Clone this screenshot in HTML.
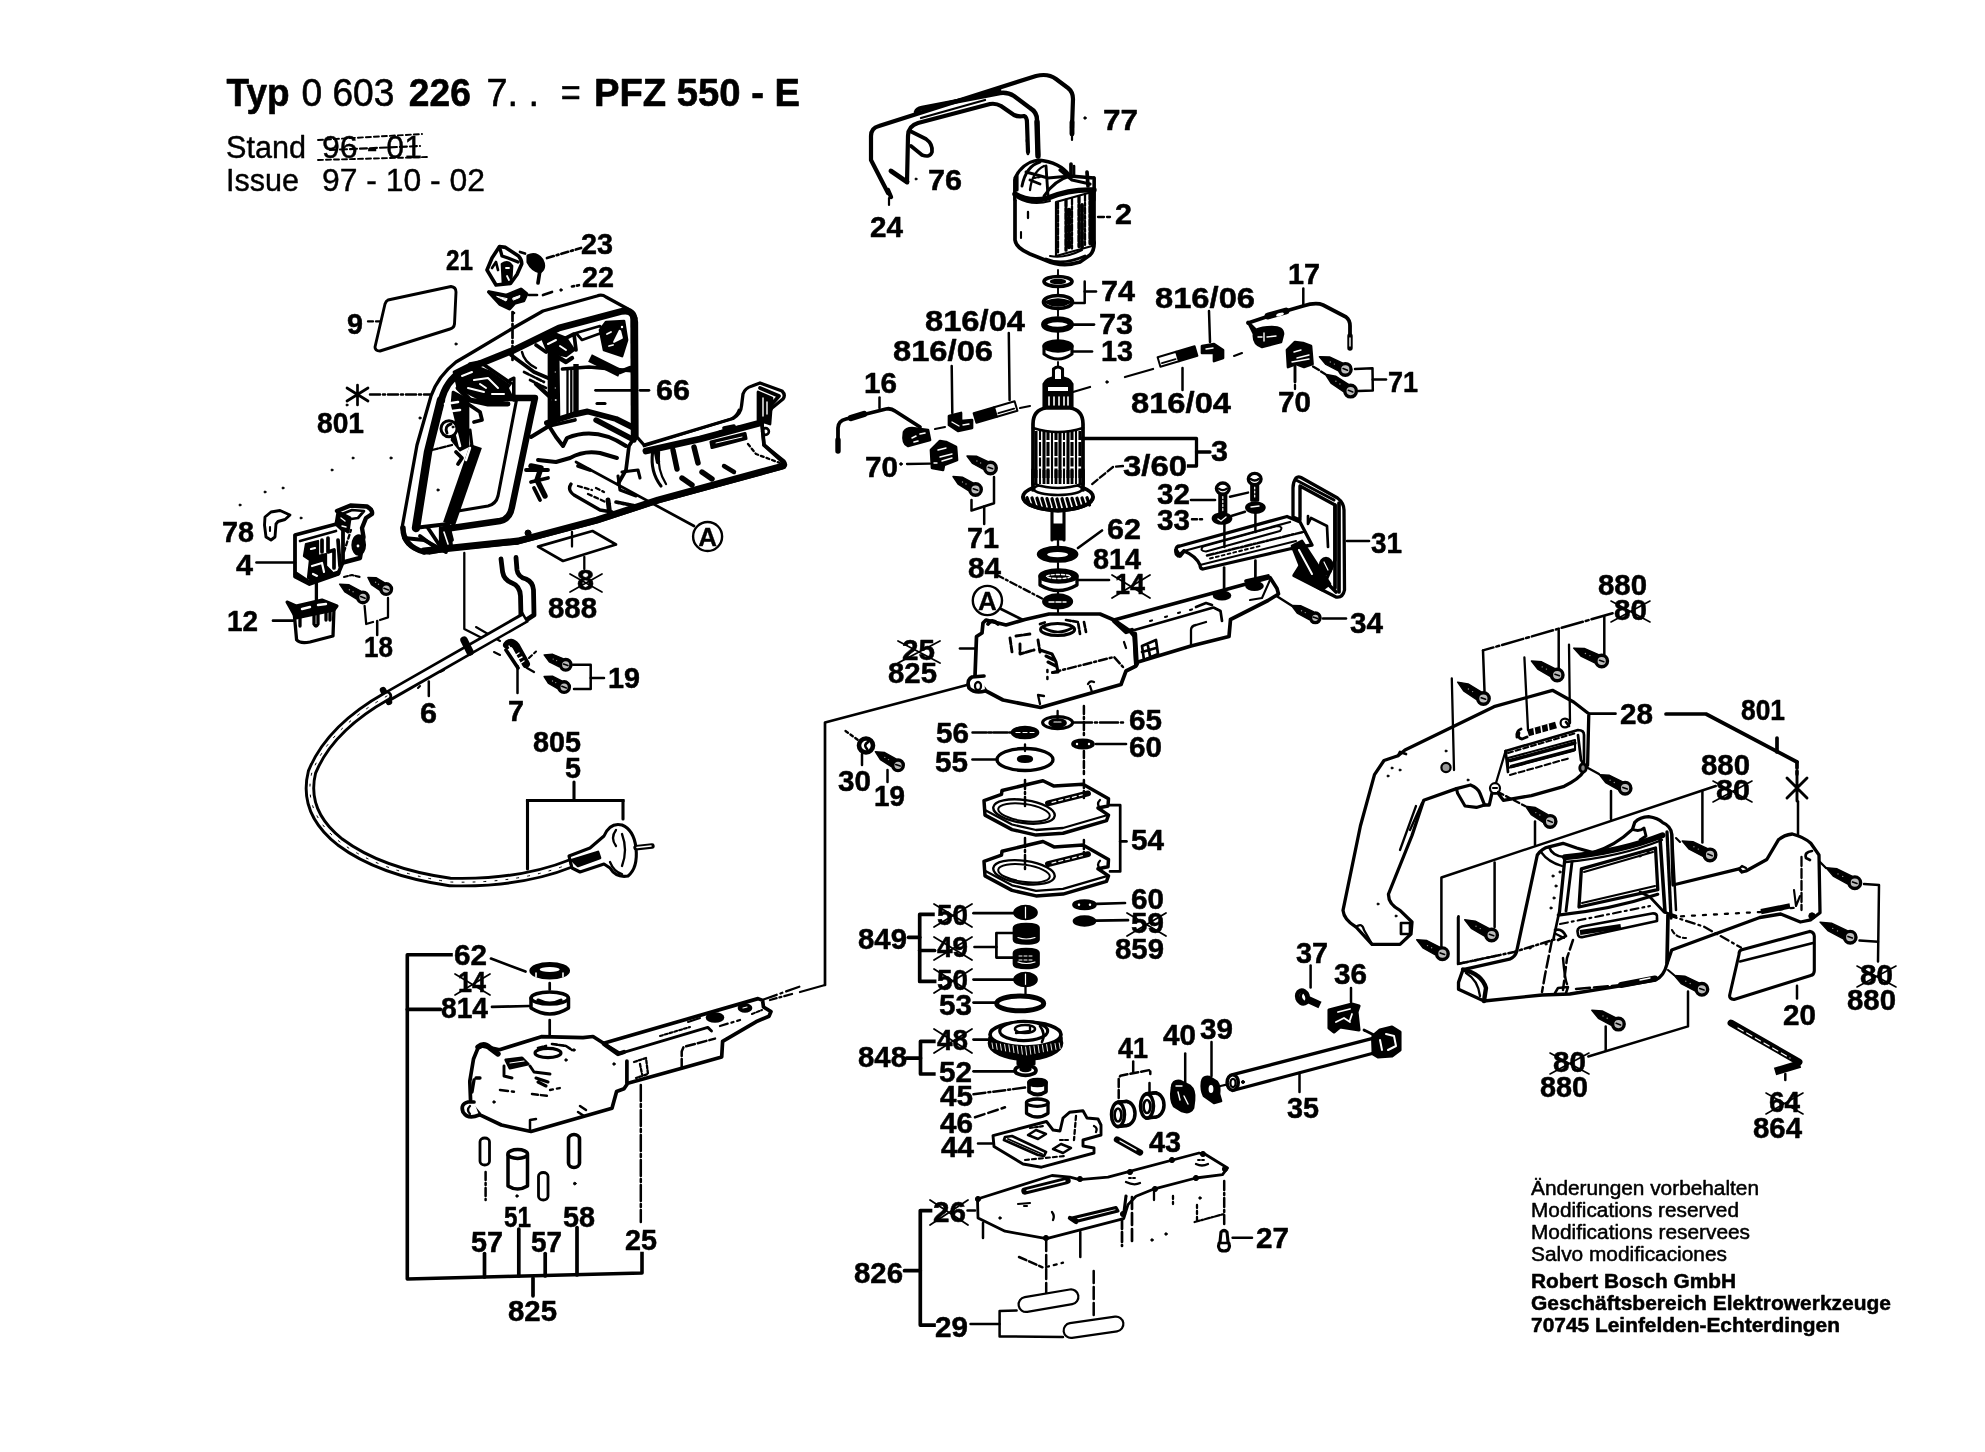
<!DOCTYPE html>
<html><head><meta charset="utf-8"><title>PFZ 550 - E</title>
<style>
html,body{margin:0;padding:0;background:#fff;}
body{width:1985px;height:1452px;overflow:hidden;font-family:"Liberation Sans",sans-serif;}
svg{display:block;font-family:"Liberation Sans",sans-serif;filter:blur(0.7px);}
svg *{stroke-linejoin:round;}
</style></head><body>
<svg width="1985" height="1452" viewBox="0 0 1985 1452" fill="none" stroke="#000" stroke-linecap="round">
<rect x="0" y="0" width="1985" height="1452" fill="#fff" stroke="none"/>
<text x="226.6" y="106" font-size="38" font-weight="bold" fill="#000" textLength="63" lengthAdjust="spacingAndGlyphs" stroke="#000" stroke-width="0.6">Typ</text>
<text x="301.4" y="106" font-size="38" font-weight="normal" fill="#000" textLength="93" lengthAdjust="spacingAndGlyphs" stroke="#000" stroke-width="0.6">0 603</text>
<text x="408.8" y="106" font-size="38" font-weight="bold" fill="#000" textLength="62" lengthAdjust="spacingAndGlyphs" stroke="#000" stroke-width="0.6">226</text>
<text x="486.6" y="106" font-size="38" font-weight="normal" fill="#000" textLength="52.5" lengthAdjust="spacingAndGlyphs" stroke="#000" stroke-width="0.6">7. .</text>
<text x="560.7" y="106" font-size="38" font-weight="normal" fill="#000" textLength="20" lengthAdjust="spacingAndGlyphs" stroke="#000" stroke-width="0.6">=</text>
<text x="594" y="106" font-size="38" font-weight="bold" fill="#000" textLength="206" lengthAdjust="spacingAndGlyphs" stroke="#000" stroke-width="0.6">PFZ 550 - E</text>
<text x="226" y="158" font-size="31" font-weight="normal" fill="#000" textLength="80" lengthAdjust="spacingAndGlyphs" stroke="#000" stroke-width="0.4">Stand</text>
<text x="322" y="158" font-size="31" font-weight="normal" fill="#000" textLength="100" lengthAdjust="spacingAndGlyphs" stroke="#000" stroke-width="0.4">96 - 01</text>
<text x="226" y="191" font-size="31" font-weight="normal" fill="#000" textLength="73" lengthAdjust="spacingAndGlyphs" stroke="#000" stroke-width="0.4">Issue</text>
<text x="322" y="191" font-size="31" font-weight="normal" fill="#000" textLength="163" lengthAdjust="spacingAndGlyphs" stroke="#000" stroke-width="0.4">97 - 10 - 02</text>
<polyline points="318,140 422,134" stroke-width="1.9" stroke-dasharray="5 3" stroke-linecap="round"/>
<polyline points="318,160 428,157" stroke-width="1.9" stroke-dasharray="5 3" stroke-linecap="round"/>
<polyline points="330,150 420,146" stroke-width="2.1" stroke-dasharray="7 3" stroke-linecap="round"/>
<text x="1103" y="130" font-size="29" font-weight="bold" fill="#000" textLength="35" lengthAdjust="spacingAndGlyphs" stroke="#000" stroke-width="0.5">77</text>
<text x="928" y="190" font-size="29" font-weight="bold" fill="#000" textLength="34" lengthAdjust="spacingAndGlyphs" stroke="#000" stroke-width="0.5">76</text>
<text x="870" y="237" font-size="29" font-weight="bold" fill="#000" textLength="33" lengthAdjust="spacingAndGlyphs" stroke="#000" stroke-width="0.5">24</text>
<text x="1115" y="224" font-size="29" font-weight="bold" fill="#000" textLength="17" lengthAdjust="spacingAndGlyphs" stroke="#000" stroke-width="0.5">2</text>
<text x="1101" y="301" font-size="29" font-weight="bold" fill="#000" textLength="34" lengthAdjust="spacingAndGlyphs" stroke="#000" stroke-width="0.5">74</text>
<text x="1099" y="334" font-size="29" font-weight="bold" fill="#000" textLength="34" lengthAdjust="spacingAndGlyphs" stroke="#000" stroke-width="0.5">73</text>
<text x="1101" y="361" font-size="29" font-weight="bold" fill="#000" textLength="32" lengthAdjust="spacingAndGlyphs" stroke="#000" stroke-width="0.5">13</text>
<text x="925" y="331" font-size="29" font-weight="bold" fill="#000" textLength="100" lengthAdjust="spacingAndGlyphs" stroke="#000" stroke-width="0.5">816/04</text>
<text x="893" y="361" font-size="29" font-weight="bold" fill="#000" textLength="100" lengthAdjust="spacingAndGlyphs" stroke="#000" stroke-width="0.5">816/06</text>
<text x="1155" y="308" font-size="29" font-weight="bold" fill="#000" textLength="100" lengthAdjust="spacingAndGlyphs" stroke="#000" stroke-width="0.5">816/06</text>
<text x="1288" y="284" font-size="29" font-weight="bold" fill="#000" textLength="32" lengthAdjust="spacingAndGlyphs" stroke="#000" stroke-width="0.5">17</text>
<text x="1131" y="413" font-size="29" font-weight="bold" fill="#000" textLength="100" lengthAdjust="spacingAndGlyphs" stroke="#000" stroke-width="0.5">816/04</text>
<text x="1278" y="412" font-size="29" font-weight="bold" fill="#000" textLength="33" lengthAdjust="spacingAndGlyphs" stroke="#000" stroke-width="0.5">70</text>
<text x="1388" y="392" font-size="29" font-weight="bold" fill="#000" textLength="30" lengthAdjust="spacingAndGlyphs" stroke="#000" stroke-width="0.5">71</text>
<text x="864" y="393" font-size="29" font-weight="bold" fill="#000" textLength="33" lengthAdjust="spacingAndGlyphs" stroke="#000" stroke-width="0.5">16</text>
<text x="865" y="477" font-size="29" font-weight="bold" fill="#000" textLength="33" lengthAdjust="spacingAndGlyphs" stroke="#000" stroke-width="0.5">70</text>
<text x="967" y="548" font-size="29" font-weight="bold" fill="#000" textLength="32" lengthAdjust="spacingAndGlyphs" stroke="#000" stroke-width="0.5">71</text>
<text x="1211" y="461" font-size="29" font-weight="bold" fill="#000" textLength="17" lengthAdjust="spacingAndGlyphs" stroke="#000" stroke-width="0.5">3</text>
<text x="1123" y="476" font-size="29" font-weight="bold" fill="#000" textLength="64" lengthAdjust="spacingAndGlyphs" stroke="#000" stroke-width="0.5">3/60</text>
<text x="1157" y="504" font-size="29" font-weight="bold" fill="#000" textLength="33" lengthAdjust="spacingAndGlyphs" stroke="#000" stroke-width="0.5">32</text>
<text x="1157" y="530" font-size="29" font-weight="bold" fill="#000" textLength="33" lengthAdjust="spacingAndGlyphs" stroke="#000" stroke-width="0.5">33</text>
<text x="1371" y="553" font-size="29" font-weight="bold" fill="#000" textLength="31" lengthAdjust="spacingAndGlyphs" stroke="#000" stroke-width="0.5">31</text>
<text x="1107" y="539" font-size="29" font-weight="bold" fill="#000" textLength="34" lengthAdjust="spacingAndGlyphs" stroke="#000" stroke-width="0.5">62</text>
<text x="1093" y="569" font-size="29" font-weight="bold" fill="#000" textLength="48" lengthAdjust="spacingAndGlyphs" stroke="#000" stroke-width="0.5">814</text>
<text x="1115" y="594" font-size="29" font-weight="bold" fill="#000" textLength="30" lengthAdjust="spacingAndGlyphs" stroke="#000" stroke-width="0.5">14</text>
<text x="968" y="578" font-size="29" font-weight="bold" fill="#000" textLength="33" lengthAdjust="spacingAndGlyphs" stroke="#000" stroke-width="0.5">84</text>
<text x="1350" y="633" font-size="29" font-weight="bold" fill="#000" textLength="33" lengthAdjust="spacingAndGlyphs" stroke="#000" stroke-width="0.5">34</text>
<text x="902" y="660" font-size="29" font-weight="bold" fill="#000" textLength="33" lengthAdjust="spacingAndGlyphs" stroke="#000" stroke-width="0.5">25</text>
<text x="888" y="683" font-size="29" font-weight="bold" fill="#000" textLength="49" lengthAdjust="spacingAndGlyphs" stroke="#000" stroke-width="0.5">825</text>
<text x="1129" y="730" font-size="29" font-weight="bold" fill="#000" textLength="33" lengthAdjust="spacingAndGlyphs" stroke="#000" stroke-width="0.5">65</text>
<text x="1129" y="757" font-size="29" font-weight="bold" fill="#000" textLength="33" lengthAdjust="spacingAndGlyphs" stroke="#000" stroke-width="0.5">60</text>
<text x="936" y="743" font-size="29" font-weight="bold" fill="#000" textLength="33" lengthAdjust="spacingAndGlyphs" stroke="#000" stroke-width="0.5">56</text>
<text x="935" y="772" font-size="29" font-weight="bold" fill="#000" textLength="33" lengthAdjust="spacingAndGlyphs" stroke="#000" stroke-width="0.5">55</text>
<text x="838" y="791" font-size="29" font-weight="bold" fill="#000" textLength="33" lengthAdjust="spacingAndGlyphs" stroke="#000" stroke-width="0.5">30</text>
<text x="874" y="806" font-size="29" font-weight="bold" fill="#000" textLength="31" lengthAdjust="spacingAndGlyphs" stroke="#000" stroke-width="0.5">19</text>
<text x="1131" y="850" font-size="29" font-weight="bold" fill="#000" textLength="33" lengthAdjust="spacingAndGlyphs" stroke="#000" stroke-width="0.5">54</text>
<text x="1131" y="909" font-size="29" font-weight="bold" fill="#000" textLength="33" lengthAdjust="spacingAndGlyphs" stroke="#000" stroke-width="0.5">60</text>
<text x="1131" y="933" font-size="29" font-weight="bold" fill="#000" textLength="33" lengthAdjust="spacingAndGlyphs" stroke="#000" stroke-width="0.5">59</text>
<text x="1115" y="959" font-size="29" font-weight="bold" fill="#000" textLength="49" lengthAdjust="spacingAndGlyphs" stroke="#000" stroke-width="0.5">859</text>
<text x="937" y="925" font-size="29" font-weight="bold" fill="#000" textLength="31" lengthAdjust="spacingAndGlyphs" stroke="#000" stroke-width="0.5">50</text>
<text x="858" y="949" font-size="29" font-weight="bold" fill="#000" textLength="49" lengthAdjust="spacingAndGlyphs" stroke="#000" stroke-width="0.5">849</text>
<text x="937" y="957" font-size="29" font-weight="bold" fill="#000" textLength="31" lengthAdjust="spacingAndGlyphs" stroke="#000" stroke-width="0.5">49</text>
<text x="937" y="990" font-size="29" font-weight="bold" fill="#000" textLength="31" lengthAdjust="spacingAndGlyphs" stroke="#000" stroke-width="0.5">50</text>
<text x="939" y="1015" font-size="29" font-weight="bold" fill="#000" textLength="33" lengthAdjust="spacingAndGlyphs" stroke="#000" stroke-width="0.5">53</text>
<text x="937" y="1050" font-size="29" font-weight="bold" fill="#000" textLength="31" lengthAdjust="spacingAndGlyphs" stroke="#000" stroke-width="0.5">48</text>
<text x="858" y="1067" font-size="29" font-weight="bold" fill="#000" textLength="49" lengthAdjust="spacingAndGlyphs" stroke="#000" stroke-width="0.5">848</text>
<text x="939" y="1082" font-size="29" font-weight="bold" fill="#000" textLength="33" lengthAdjust="spacingAndGlyphs" stroke="#000" stroke-width="0.5">52</text>
<text x="940" y="1106" font-size="29" font-weight="bold" fill="#000" textLength="33" lengthAdjust="spacingAndGlyphs" stroke="#000" stroke-width="0.5">45</text>
<text x="940" y="1133" font-size="29" font-weight="bold" fill="#000" textLength="33" lengthAdjust="spacingAndGlyphs" stroke="#000" stroke-width="0.5">46</text>
<text x="941" y="1157" font-size="29" font-weight="bold" fill="#000" textLength="33" lengthAdjust="spacingAndGlyphs" stroke="#000" stroke-width="0.5">44</text>
<text x="1118" y="1058" font-size="29" font-weight="bold" fill="#000" textLength="30" lengthAdjust="spacingAndGlyphs" stroke="#000" stroke-width="0.5">41</text>
<text x="1163" y="1045" font-size="29" font-weight="bold" fill="#000" textLength="33" lengthAdjust="spacingAndGlyphs" stroke="#000" stroke-width="0.5">40</text>
<text x="1200" y="1039" font-size="29" font-weight="bold" fill="#000" textLength="33" lengthAdjust="spacingAndGlyphs" stroke="#000" stroke-width="0.5">39</text>
<text x="1149" y="1152" font-size="29" font-weight="bold" fill="#000" textLength="32" lengthAdjust="spacingAndGlyphs" stroke="#000" stroke-width="0.5">43</text>
<text x="1296" y="963" font-size="29" font-weight="bold" fill="#000" textLength="32" lengthAdjust="spacingAndGlyphs" stroke="#000" stroke-width="0.5">37</text>
<text x="1334" y="984" font-size="29" font-weight="bold" fill="#000" textLength="33" lengthAdjust="spacingAndGlyphs" stroke="#000" stroke-width="0.5">36</text>
<text x="1287" y="1118" font-size="29" font-weight="bold" fill="#000" textLength="32" lengthAdjust="spacingAndGlyphs" stroke="#000" stroke-width="0.5">35</text>
<text x="933" y="1222" font-size="29" font-weight="bold" fill="#000" textLength="33" lengthAdjust="spacingAndGlyphs" stroke="#000" stroke-width="0.5">26</text>
<text x="854" y="1283" font-size="29" font-weight="bold" fill="#000" textLength="49" lengthAdjust="spacingAndGlyphs" stroke="#000" stroke-width="0.5">826</text>
<text x="935" y="1337" font-size="29" font-weight="bold" fill="#000" textLength="33" lengthAdjust="spacingAndGlyphs" stroke="#000" stroke-width="0.5">29</text>
<text x="1256" y="1248" font-size="29" font-weight="bold" fill="#000" textLength="33" lengthAdjust="spacingAndGlyphs" stroke="#000" stroke-width="0.5">27</text>
<text x="1598" y="595" font-size="29" font-weight="bold" fill="#000" textLength="49" lengthAdjust="spacingAndGlyphs" stroke="#000" stroke-width="0.5">880</text>
<text x="1614" y="620" font-size="29" font-weight="bold" fill="#000" textLength="33" lengthAdjust="spacingAndGlyphs" stroke="#000" stroke-width="0.5">80</text>
<text x="1620" y="724" font-size="29" font-weight="bold" fill="#000" textLength="33" lengthAdjust="spacingAndGlyphs" stroke="#000" stroke-width="0.5">28</text>
<text x="1741" y="720" font-size="29" font-weight="bold" fill="#000" textLength="44" lengthAdjust="spacingAndGlyphs" stroke="#000" stroke-width="0.5">801</text>
<text x="1701" y="775" font-size="29" font-weight="bold" fill="#000" textLength="49" lengthAdjust="spacingAndGlyphs" stroke="#000" stroke-width="0.5">880</text>
<text x="1716" y="800" font-size="29" font-weight="bold" fill="#000" textLength="34" lengthAdjust="spacingAndGlyphs" stroke="#000" stroke-width="0.5">80</text>
<text x="1860" y="985" font-size="29" font-weight="bold" fill="#000" textLength="33" lengthAdjust="spacingAndGlyphs" stroke="#000" stroke-width="0.5">80</text>
<text x="1847" y="1010" font-size="29" font-weight="bold" fill="#000" textLength="49" lengthAdjust="spacingAndGlyphs" stroke="#000" stroke-width="0.5">880</text>
<text x="1783" y="1025" font-size="29" font-weight="bold" fill="#000" textLength="33" lengthAdjust="spacingAndGlyphs" stroke="#000" stroke-width="0.5">20</text>
<text x="1553" y="1072" font-size="29" font-weight="bold" fill="#000" textLength="33" lengthAdjust="spacingAndGlyphs" stroke="#000" stroke-width="0.5">80</text>
<text x="1540" y="1097" font-size="29" font-weight="bold" fill="#000" textLength="48" lengthAdjust="spacingAndGlyphs" stroke="#000" stroke-width="0.5">880</text>
<text x="1769" y="1112" font-size="29" font-weight="bold" fill="#000" textLength="31" lengthAdjust="spacingAndGlyphs" stroke="#000" stroke-width="0.5">64</text>
<text x="1753" y="1138" font-size="29" font-weight="bold" fill="#000" textLength="49" lengthAdjust="spacingAndGlyphs" stroke="#000" stroke-width="0.5">864</text>
<text x="446" y="270" font-size="29" font-weight="bold" fill="#000" textLength="27" lengthAdjust="spacingAndGlyphs" stroke="#000" stroke-width="0.5">21</text>
<text x="581" y="254" font-size="29" font-weight="bold" fill="#000" textLength="32" lengthAdjust="spacingAndGlyphs" stroke="#000" stroke-width="0.5">23</text>
<text x="582" y="287" font-size="29" font-weight="bold" fill="#000" textLength="32" lengthAdjust="spacingAndGlyphs" stroke="#000" stroke-width="0.5">22</text>
<text x="347" y="334" font-size="29" font-weight="bold" fill="#000" textLength="16" lengthAdjust="spacingAndGlyphs" stroke="#000" stroke-width="0.5">9</text>
<text x="656" y="400" font-size="29" font-weight="bold" fill="#000" textLength="34" lengthAdjust="spacingAndGlyphs" stroke="#000" stroke-width="0.5">66</text>
<text x="317" y="433" font-size="29" font-weight="bold" fill="#000" textLength="47" lengthAdjust="spacingAndGlyphs" stroke="#000" stroke-width="0.5">801</text>
<text x="222" y="542" font-size="29" font-weight="bold" fill="#000" textLength="32" lengthAdjust="spacingAndGlyphs" stroke="#000" stroke-width="0.5">78</text>
<text x="236" y="575" font-size="29" font-weight="bold" fill="#000" textLength="17" lengthAdjust="spacingAndGlyphs" stroke="#000" stroke-width="0.5">4</text>
<text x="227" y="631" font-size="29" font-weight="bold" fill="#000" textLength="31" lengthAdjust="spacingAndGlyphs" stroke="#000" stroke-width="0.5">12</text>
<text x="364" y="657" font-size="29" font-weight="bold" fill="#000" textLength="29" lengthAdjust="spacingAndGlyphs" stroke="#000" stroke-width="0.5">18</text>
<text x="577" y="590" font-size="29" font-weight="bold" fill="#000" textLength="17" lengthAdjust="spacingAndGlyphs" stroke="#000" stroke-width="0.5">8</text>
<text x="548" y="618" font-size="29" font-weight="bold" fill="#000" textLength="49" lengthAdjust="spacingAndGlyphs" stroke="#000" stroke-width="0.5">888</text>
<text x="608" y="688" font-size="29" font-weight="bold" fill="#000" textLength="32" lengthAdjust="spacingAndGlyphs" stroke="#000" stroke-width="0.5">19</text>
<text x="420" y="723" font-size="29" font-weight="bold" fill="#000" textLength="17" lengthAdjust="spacingAndGlyphs" stroke="#000" stroke-width="0.5">6</text>
<text x="508" y="721" font-size="29" font-weight="bold" fill="#000" textLength="16" lengthAdjust="spacingAndGlyphs" stroke="#000" stroke-width="0.5">7</text>
<text x="533" y="752" font-size="29" font-weight="bold" fill="#000" textLength="48" lengthAdjust="spacingAndGlyphs" stroke="#000" stroke-width="0.5">805</text>
<text x="565" y="778" font-size="29" font-weight="bold" fill="#000" textLength="16" lengthAdjust="spacingAndGlyphs" stroke="#000" stroke-width="0.5">5</text>
<text x="454" y="965" font-size="29" font-weight="bold" fill="#000" textLength="33" lengthAdjust="spacingAndGlyphs" stroke="#000" stroke-width="0.5">62</text>
<text x="458" y="992" font-size="29" font-weight="bold" fill="#000" textLength="28" lengthAdjust="spacingAndGlyphs" stroke="#000" stroke-width="0.5">14</text>
<text x="441" y="1018" font-size="29" font-weight="bold" fill="#000" textLength="47" lengthAdjust="spacingAndGlyphs" stroke="#000" stroke-width="0.5">814</text>
<text x="504" y="1227" font-size="29" font-weight="bold" fill="#000" textLength="27" lengthAdjust="spacingAndGlyphs" stroke="#000" stroke-width="0.5">51</text>
<text x="563" y="1227" font-size="29" font-weight="bold" fill="#000" textLength="32" lengthAdjust="spacingAndGlyphs" stroke="#000" stroke-width="0.5">58</text>
<text x="471" y="1252" font-size="29" font-weight="bold" fill="#000" textLength="32" lengthAdjust="spacingAndGlyphs" stroke="#000" stroke-width="0.5">57</text>
<text x="531" y="1252" font-size="29" font-weight="bold" fill="#000" textLength="31" lengthAdjust="spacingAndGlyphs" stroke="#000" stroke-width="0.5">57</text>
<text x="625" y="1250" font-size="29" font-weight="bold" fill="#000" textLength="32" lengthAdjust="spacingAndGlyphs" stroke="#000" stroke-width="0.5">25</text>
<text x="508" y="1321" font-size="29" font-weight="bold" fill="#000" textLength="49" lengthAdjust="spacingAndGlyphs" stroke="#000" stroke-width="0.5">825</text>
<text x="1531" y="1195" font-size="20" font-weight="normal" fill="#000" textLength="228" lengthAdjust="spacingAndGlyphs" stroke="#000" stroke-width="0.5">Änderungen vorbehalten</text>
<text x="1531" y="1217" font-size="20" font-weight="normal" fill="#000" textLength="208" lengthAdjust="spacingAndGlyphs" stroke="#000" stroke-width="0.5">Modifications reserved</text>
<text x="1531" y="1239" font-size="20" font-weight="normal" fill="#000" textLength="219" lengthAdjust="spacingAndGlyphs" stroke="#000" stroke-width="0.5">Modifications reservees</text>
<text x="1531" y="1261" font-size="20" font-weight="normal" fill="#000" textLength="196" lengthAdjust="spacingAndGlyphs" stroke="#000" stroke-width="0.5">Salvo modificaciones</text>
<text x="1531" y="1288" font-size="20" font-weight="bold" fill="#000" textLength="205" lengthAdjust="spacingAndGlyphs" stroke="#000" stroke-width="0.5">Robert Bosch GmbH</text>
<text x="1531" y="1310" font-size="20" font-weight="bold" fill="#000" textLength="360" lengthAdjust="spacingAndGlyphs" stroke="#000" stroke-width="0.5">Geschäftsbereich Elektrowerkzeuge</text>
<text x="1531" y="1332" font-size="20" font-weight="bold" fill="#000" textLength="309" lengthAdjust="spacingAndGlyphs" stroke="#000" stroke-width="0.5">70745 Leinfelden-Echterdingen</text>
<path d="M888,193 L871,160 L871,136 Q871,128 879,126 L1036,76 Q1048,73 1056,79 L1068,88 Q1073,92 1073,99 L1072,128" stroke-width="4.2" fill="none" />
<polyline points="1072,122 1072,134" stroke-width="4.9" stroke-linecap="round"/>
<polyline points="1072,136 1072,140" stroke-width="2.2" stroke-linecap="round"/>
<polyline points="888,190 891,197" stroke-width="4.4" stroke-linecap="round"/>
<polyline points="889,198 889,205" stroke-width="2.2" stroke-linecap="round"/>
<path d="M916,112 Q917,109 922,108 L1000,93 Q1008,92 1014,96 L1030,108 Q1037,112 1037,120 L1038,155" stroke-width="4.4" fill="none" />
<polyline points="1037,122 1038,156" stroke-width="5.4" stroke-linecap="round"/>
<path d="M907,182 L908,136 Q908,126 918,123 L990,104 Q996,103 1001,106 L1014,115 Q1018,117 1024,116 Q1027,117 1027,123 L1028,152" stroke-width="4.2" fill="none" />
<polyline points="1027,140 1028,155" stroke-width="2.7" stroke-dasharray="2 2" stroke-linecap="round"/>
<polyline points="921,118 985,100" stroke-width="2.3" stroke-linecap="round"/>
<polyline points="917,110 1000,90" stroke-width="2.7" stroke-linecap="round"/>
<path d="M910,131 L926,139 Q933,144 932,152 Q930,158 922,155 L911,146" stroke-width="3.7" fill="none" />
<polyline points="891,171 907,182" stroke-width="4.9" stroke-linecap="round"/>
<circle cx="916" cy="179" r="1" fill="#000"/>
<circle cx="1085" cy="118" r="1.2" fill="#000"/>
<path d="M1015,180 L1015,240 Q1016,248 1030,254 L1045,260 Q1062,268 1080,262 L1090,255 Q1095,250 1094,240 L1094,178" stroke-width="3.7" fill="#fff" />
<path d="M1015,200 L1015,178 Q1022,163 1038,160 Q1060,162 1070,176 L1094,178 L1094,200" stroke-width="3.3" fill="#fff" />
<path d="M1022,186 Q1026,166 1040,162" stroke-width="2.9" fill="none" />
<path d="M1030,190 Q1032,172 1044,166" stroke-width="2.3" fill="none" />
<path d="M1044,196 Q1055,180 1070,176" stroke-width="2.9" fill="none" />
<path d="M1015,194 Q1030,203 1048,198 Q1070,189 1094,190" stroke-width="5.4" fill="none" />
<path d="M1018,198 Q1032,206 1050,201" stroke-width="2.1" fill="none" />
<path d="M1026,172 L1048,178 L1070,176 M1046,166 L1048,196 M1030,180 L1040,184" stroke-width="2.9" fill="none" />
<path d="M1060,170 L1072,180 L1090,184" stroke-width="3.3" fill="none" />
<path d="M1056,202 L1092,192 L1092,246 L1056,256 Z" stroke-width="2.2" fill="#fff" />
<polyline points="1058,202.4 1058,254.4" stroke-width="2.3" stroke-dasharray="6 2 3 2" stroke-linecap="round"/>
<polyline points="1066,200.2 1066,252.2" stroke-width="3.3" stroke-dasharray="6 2 3 2" stroke-linecap="round"/>
<polyline points="1072,198.5 1072,250.5" stroke-width="2.3" stroke-dasharray="6 2 3 2" stroke-linecap="round"/>
<polyline points="1079,196.6 1079,248.6" stroke-width="3.3" stroke-dasharray="6 2 3 2" stroke-linecap="round"/>
<polyline points="1085,194.9 1085,246.9" stroke-width="2.3" stroke-dasharray="6 2 3 2" stroke-linecap="round"/>
<polyline points="1090,193.5 1090,245.5" stroke-width="3.3" stroke-dasharray="6 2 3 2" stroke-linecap="round"/>
<polyline points="1069,210 1069,250" stroke-width="4.4" stroke-dasharray="5 3" stroke-linecap="round"/>
<polyline points="1082,205 1082,247" stroke-width="3.8" stroke-dasharray="7 2" stroke-linecap="round"/>
<path d="M1046,259 Q1062,266 1085,256" stroke-width="2.7" fill="none" />
<path d="M1050,256 Q1064,259 1082,250" stroke-width="2.1" fill="none" />
<polyline points="1071,164 1071,176" stroke-width="3.7" stroke-linecap="round"/>
<polyline points="1074,166 1074,176" stroke-width="2.7" stroke-linecap="round"/>
<polyline points="1087,172 1088,186" stroke-width="3.7" stroke-linecap="round"/>
<polyline points="1017,176 1017,190" stroke-width="3.2" stroke-linecap="round"/>
<polyline points="1028,212 1028,218" stroke-width="2.3" stroke-linecap="round"/>
<polyline points="1021,232 1021,238" stroke-width="2.1" stroke-linecap="round"/>
<polyline points="1034,178 1040,177" stroke-width="2.1" stroke-dasharray="2 2" stroke-linecap="round"/>
<polyline points="1098,217 1110,217" stroke-width="2.3" stroke-dasharray="6 3" stroke-linecap="round"/>
<ellipse cx="1058" cy="281.5" rx="14" ry="5" stroke-width="3.7" fill="#fff"/>
<ellipse cx="1058" cy="281.5" rx="7" ry="1.6" stroke-width="2.2" fill="#000"/>
<ellipse cx="1058" cy="302" rx="14.5" ry="6.5" stroke-width="3.7" fill="#fff"/>
<path d="M1046,302 Q1058,309 1070,302 Q1058,297 1046,302" stroke-width="2.7" fill="#000" />
<ellipse cx="1057.5" cy="324.5" rx="13.5" ry="5.2" stroke-width="5.9" fill="#fff"/>
<path d="M1044,346 L1044,354 Q1058,364 1072,354 L1072,346" stroke-width="3.1" fill="#fff" />
<ellipse cx="1058" cy="346" rx="14" ry="5" stroke-width="3.3" fill="#000"/>
<polyline points="1058,270 1058,276" stroke-width="1.9" stroke-linecap="round"/>
<polyline points="1058,288 1058,294" stroke-width="1.9" stroke-linecap="round"/>
<polyline points="1058,310 1058,316" stroke-width="1.9" stroke-linecap="round"/>
<polyline points="1058,332 1058,340" stroke-width="2.1" stroke-linecap="round"/>
<polyline points="1058,362 1058,366" stroke-width="1.9" stroke-linecap="round"/>
<polyline points="1084.7,281.6 1084.7,303 1073,303" stroke-width="2.5" stroke-linecap="round"/>
<polyline points="1084.7,291.5 1096,291.5" stroke-width="2.5" stroke-linecap="round"/>
<polyline points="1073,324.6 1094,324.6" stroke-width="2.7" stroke-linecap="round"/>
<polyline points="1073,351.5 1092,351.5" stroke-width="2.7" stroke-linecap="round"/>
<path d="M1053.5,380 L1053.5,369 Q1058,365 1062.5,369 L1062.5,380" stroke-width="3.1" fill="#fff" />
<path d="M1044,408 L1044,384 Q1046,378 1058,377 Q1070,378 1072,384 L1072,408 Z" stroke-width="3.1" fill="#000" />
<polyline points="1047,389 1069,389" stroke-width="2.7" stroke-linecap="butt"/>
<rect x="1048" y="387" width="20" height="4" fill="#fff" stroke="none"/>
<line x1="1049" y1="397" x2="1049" y2="405" stroke="#fff" stroke-width="1.6"/>
<line x1="1054" y1="397" x2="1054" y2="405" stroke="#fff" stroke-width="1.6"/>
<line x1="1059" y1="397" x2="1059" y2="405" stroke="#fff" stroke-width="1.6"/>
<line x1="1064" y1="397" x2="1064" y2="405" stroke="#fff" stroke-width="1.6"/>
<line x1="1068" y1="397" x2="1068" y2="405" stroke="#fff" stroke-width="1.6"/>
<rect x="1055" y="370" width="6" height="9" fill="#fff" stroke="none"/>
<path d="M1033,484 L1033,424 Q1033,410 1046,408 L1070,408 Q1083,410 1083,424 L1083,484 Z" stroke-width="3.7" fill="#fff" />
<path d="M1033,428 Q1058,436 1083,428" stroke-width="2.7" fill="none" />
<polyline points="1036,431 1036,482" stroke-width="3.1" stroke-linecap="butt"/>
<polyline points="1040,431 1040,482" stroke-width="2.1" stroke-dasharray="9 2 14 1.5" stroke-linecap="butt"/>
<polyline points="1044,431 1044,482" stroke-width="3.1" stroke-linecap="butt"/>
<polyline points="1048,431 1048,482" stroke-width="3.1" stroke-dasharray="9 2 14 1.5" stroke-linecap="butt"/>
<polyline points="1052,431 1052,482" stroke-width="2.1" stroke-linecap="butt"/>
<polyline points="1056,431 1056,482" stroke-width="3.1" stroke-dasharray="9 2 14 1.5" stroke-linecap="butt"/>
<polyline points="1060,431 1060,482" stroke-width="3.1" stroke-linecap="butt"/>
<polyline points="1064,431 1064,482" stroke-width="2.1" stroke-dasharray="9 2 14 1.5" stroke-linecap="butt"/>
<polyline points="1068,431 1068,482" stroke-width="3.1" stroke-linecap="butt"/>
<polyline points="1072,431 1072,482" stroke-width="3.1" stroke-dasharray="9 2 14 1.5" stroke-linecap="butt"/>
<polyline points="1076,431 1076,482" stroke-width="2.1" stroke-linecap="butt"/>
<polyline points="1080,431 1080,482" stroke-width="3.1" stroke-dasharray="9 2 14 1.5" stroke-linecap="butt"/>
<ellipse cx="1058" cy="497" rx="35" ry="13" stroke-width="3.7" fill="#fff"/>
<path d="M1023,497 Q1024,508 1058,511 Q1092,508 1093,497" stroke-width="3.7" fill="none" />
<polyline points="1027,497.8 1029.5,505.0" stroke-width="3.3" stroke-linecap="round"/>
<polyline points="1032,498.0 1034.5,505.5" stroke-width="3.3" stroke-linecap="round"/>
<polyline points="1037,498.2 1039.5,506.0" stroke-width="3.3" stroke-linecap="round"/>
<polyline points="1042,498.4 1044.5,506.5" stroke-width="3.3" stroke-linecap="round"/>
<polyline points="1047,498.6 1049.5,507.0" stroke-width="3.3" stroke-linecap="round"/>
<polyline points="1052,498.8 1054.5,507.5" stroke-width="3.3" stroke-linecap="round"/>
<polyline points="1057,499.0 1059.5,508.0" stroke-width="3.3" stroke-linecap="round"/>
<polyline points="1062,498.8 1064.5,507.5" stroke-width="3.3" stroke-linecap="round"/>
<polyline points="1067,498.6 1069.5,507.0" stroke-width="3.3" stroke-linecap="round"/>
<polyline points="1072,498.4 1074.5,506.5" stroke-width="3.3" stroke-linecap="round"/>
<polyline points="1077,498.2 1079.5,506.0" stroke-width="3.3" stroke-linecap="round"/>
<polyline points="1082,498.0 1084.5,505.5" stroke-width="3.3" stroke-linecap="round"/>
<polyline points="1087,497.8 1089.5,505.0" stroke-width="3.3" stroke-linecap="round"/>
<ellipse cx="1058" cy="489" rx="24" ry="6" stroke-width="2.7" fill="#fff"/>
<rect x="1034" y="478" width="48" height="8" fill="#fff" stroke="none"/>
<polyline points="1033,470 1033,490" stroke-width="3.7" stroke-linecap="round"/>
<polyline points="1083,470 1083,490" stroke-width="3.7" stroke-linecap="round"/>
<polyline points="1036,470 1036,484" stroke-width="2.9" stroke-linecap="butt"/>
<polyline points="1040,470 1040,484" stroke-width="1.9" stroke-linecap="butt"/>
<polyline points="1044,470 1044,484" stroke-width="2.9" stroke-linecap="butt"/>
<polyline points="1048,470 1048,484" stroke-width="2.9" stroke-linecap="butt"/>
<polyline points="1052,470 1052,484" stroke-width="1.9" stroke-linecap="butt"/>
<polyline points="1056,470 1056,484" stroke-width="2.9" stroke-linecap="butt"/>
<polyline points="1060,470 1060,484" stroke-width="2.9" stroke-linecap="butt"/>
<polyline points="1064,470 1064,484" stroke-width="1.9" stroke-linecap="butt"/>
<polyline points="1068,470 1068,484" stroke-width="2.9" stroke-linecap="butt"/>
<polyline points="1072,470 1072,484" stroke-width="2.9" stroke-linecap="butt"/>
<polyline points="1076,470 1076,484" stroke-width="1.9" stroke-linecap="butt"/>
<polyline points="1080,470 1080,484" stroke-width="2.9" stroke-linecap="butt"/>
<path d="M1034,484 Q1058,492 1082,484" stroke-width="2.7" fill="none" />
<path d="M1052,510 L1052,540 M1064,510 L1064,540" stroke-width="3.1" fill="none" />
<rect x="1052" y="524" width="12" height="16" fill="#000"/>
<polyline points="1083,438.5 1196.5,438.5 1196.5,466 1188.5,466" stroke-width="3.3" stroke-linecap="square"/>
<polyline points="1196.5,452 1210,452" stroke-width="3.3" stroke-linecap="round"/>
<polyline points="1123,466 1113,467 1091,485" stroke-width="2.3" stroke-dasharray="7 3" stroke-linecap="round"/>
<polygon points="1178.9,361.3 1197.4,355.8 1194.6,346.2 1176.1,351.7" fill="#000" stroke-width="2"/>
<polygon points="1160.4,366.8 1178.9,361.3 1176.1,351.7 1157.6,357.2" fill="#fff" stroke-width="2"/>
<polyline points="1161.9,363.1 1175.6,359.1" stroke-width="1.9" stroke-linecap="round"/>
<polygon points="976.4,422.8 996.9,416.8 994.1,407.2 973.6,413.2" fill="#000" stroke-width="2"/>
<polygon points="996.9,416.8 1017.4,410.8 1014.6,401.2 994.1,407.2" fill="#fff" stroke-width="2"/>
<polyline points="998.4,413.2 1014.1,408.6" stroke-width="1.9" stroke-linecap="round"/>
<path d="M1202,346 L1214,344 L1223,350 L1223,358 L1214,361 L1214,353 L1202,353 Z" stroke-width="2.7" fill="#000" />
<path d="M1206,349 L1213,348" stroke="#fff" stroke-width="1.4"/>
<path d="M949,416 L961,413 L961,421 L972,420 L972,428 L958,431 L949,425 Z" stroke-width="2.7" fill="#000" />
<path d="M952,422 L959,426 M963,425 L969,424" stroke="#fff" stroke-width="1.4"/>
<polyline points="1209,311 1210,342" stroke-width="2.5" stroke-linecap="round"/>
<polyline points="1182.5,368 1182.5,390" stroke-width="2.5" stroke-linecap="round"/>
<polyline points="1008.8,333 1009.6,400" stroke-width="2.5" stroke-linecap="round"/>
<polyline points="951.7,366 952.3,413" stroke-width="2.5" stroke-linecap="round"/>
<polyline points="1073,392 1090,387" stroke-width="2.3" stroke-linecap="round"/>
<circle cx="1107" cy="382" r="1.2" fill="#000"/>
<polyline points="1125,377 1153,369" stroke-width="2.3" stroke-linecap="round"/>
<polyline points="1234,356 1242,353" stroke-width="2.1" stroke-linecap="round"/>
<polyline points="1020,408 1030,406" stroke-width="2.1" stroke-linecap="round"/>
<polyline points="935,429 945,427" stroke-width="2.1" stroke-linecap="round"/>
<path d="M838,451 L838,428 Q838,421 846,419 L858,416 L886,409 Q891,408 895,411 L920,427" stroke-width="3.8" fill="none" />
<polyline points="851,418 864,414" stroke-width="6.4" stroke-linecap="round"/>
<polyline points="838,440 838,451" stroke-width="5.4" stroke-linecap="round"/>
<polyline points="879.5,397.5 879.5,408" stroke-width="2.5" stroke-linecap="round"/>
<path d="M904,432 Q906,428 912,428 L928,430 L930,440 L908,446 Q902,444 904,432 Z" stroke-width="2.7" fill="#000" />
<path d="M912,438 L916,436 M920,434 L925,433 M914,442 L918,441" stroke="#fff" stroke-width="1.6"/>
<path d="M931,450 L940,441 L946,442 L956,447 L957,460 L944,465 L943,470 L932,468 Z" stroke-width="2.7" fill="#000" />
<path d="M938,450 L946,448 M940,457 L952,454 M942,461 L952,458 M934,463 L937,463" stroke="#fff" stroke-width="1.4"/>
<circle cx="901" cy="464" r="1.3" fill="#000"/>
<polyline points="907,464 930,463.7" stroke-width="2.3" stroke-linecap="round"/>
<polygon points="987.6,461.5 976.4,456.2 967.0,456.0 972.6,463.5 983.6,469.5" fill="#000" stroke="#000" stroke-width="1.4"/>
<circle cx="980.6" cy="463.0" r="0.7" fill="#999" stroke="none"/>
<circle cx="976.9" cy="461.0" r="0.7" fill="#999" stroke="none"/>
<circle cx="990.5" cy="468.0" r="5.8" stroke-width="3.4" fill="#bbb"/>
<path d="M988.3,467.2 L992.7,468.8" stroke-width="1.6"/>
<polygon points="973.0,482.9 962.3,477.1 953.0,476.5 958.1,484.2 968.5,490.6" fill="#000" stroke="#000" stroke-width="1.4"/>
<circle cx="966.0" cy="484.0" r="0.7" fill="#999" stroke="none"/>
<circle cx="962.5" cy="482.0" r="0.7" fill="#999" stroke="none"/>
<circle cx="975.5" cy="489.5" r="5.8" stroke-width="3.4" fill="#bbb"/>
<path d="M973.3,488.7 L977.7,490.3" stroke-width="1.6"/>
<polyline points="994,477 994,503.3 971.5,510.5 971.5,500" stroke-width="2.5" stroke-linecap="round"/>
<polyline points="984.2,506.6 984.2,524" stroke-width="2.5" stroke-linecap="round"/>
<path d="M1248,323 L1272,315 L1303,306 Q1316,302 1323,305 L1346,317 Q1350,320 1350,326 L1350,346" stroke-width="3.8" fill="none" />
<polyline points="1268,316 1286,311" stroke-width="6.9" stroke-linecap="round"/>
<ellipse cx="1280" cy="314.5" rx="4" ry="1.6" fill="#fff" stroke="none" transform="rotate(-17 1280 314.5)"/>
<polyline points="1350,336 1350,348" stroke-width="5.4" stroke-linecap="round"/>
<line x1="1350" y1="338" x2="1350" y2="346" stroke="#fff" stroke-width="1.4"/>
<polyline points="1303.3,288.5 1303.3,305" stroke-width="2.5" stroke-linecap="round"/>
<path d="M1248,322 L1256,330 Q1262,327 1272,327 Q1283,327 1283,334 L1281,342 L1262,347 Q1253,344 1254,334 Z" stroke-width="2.7" fill="#000" />
<path d="M1258,337 L1262,337 M1264,333 L1264,341 M1267,337 L1276,336" stroke="#fff" stroke-width="1.4"/>
<path d="M1287,350 L1295,342 L1303,343 L1311,346 L1312.5,364 L1304,367 L1296,364 L1288,367 Z" stroke-width="2.7" fill="#000" />
<path d="M1294,352 L1301,350 M1297,358 L1309,355 M1292,362 L1309,359" stroke="#fff" stroke-width="1.4"/>
<polyline points="1295,366 1295,382" stroke-width="2.9" stroke-linecap="round"/>
<polyline points="1295,385 1295,389" stroke-width="2.3" stroke-linecap="round"/>
<polygon points="1342.3,362.9 1329.5,357.0 1319.4,356.7 1325.9,364.5 1338.4,371.0" fill="#000" stroke="#000" stroke-width="1.4"/>
<circle cx="1334.4" cy="364.1" r="0.7" fill="#999" stroke="none"/>
<circle cx="1330.3" cy="362.0" r="0.7" fill="#999" stroke="none"/>
<circle cx="1345.3" cy="369.4" r="5.8" stroke-width="3.4" fill="#bbb"/>
<path d="M1343.1,368.6 L1347.5,370.2" stroke-width="1.6"/>
<polygon points="1348.5,384.3 1335.6,376.2 1325.2,374.2 1331.0,383.1 1343.5,391.8" fill="#000" stroke="#000" stroke-width="1.4"/>
<circle cx="1339.9" cy="384.0" r="0.7" fill="#999" stroke="none"/>
<circle cx="1335.9" cy="381.3" r="0.7" fill="#999" stroke="none"/>
<circle cx="1350.6" cy="391.1" r="5.8" stroke-width="3.4" fill="#bbb"/>
<path d="M1348.4,390.3 L1352.8,391.9" stroke-width="1.6"/>
<polyline points="1313,366.5 1319,370" stroke-width="2.3" stroke-linecap="round"/>
<polyline points="1321,371.5 1325,374" stroke-width="2.3" stroke-linecap="round"/>
<polyline points="1355,369 1372.5,368.3 1372.8,390.6 1358.5,391.1" stroke-width="2.5" stroke-linecap="round"/>
<polyline points="1372.8,379.5 1386,379.5" stroke-width="2.5" stroke-linecap="round"/>
<path d="M402,528 L417,445 L431,396 Q438,376 456,362 L473,352 L514,327.5 L543,311 L597,296 Q602,294 606,297 L628,309 Q636,314 636.5,322 L637,437 L644,445 L733,418.5 Q741,414 741.5,406 L743,394 Q745,388 752,386 L760,383 L782,391 Q786,395 783,399 L772,408 L762,424 L764,445 L784,461 Q788,466 782,468 L658,502 L597,522 L518,543 L452,549 L430,553 Q410,551 404,538 Z" stroke-width="3.3" fill="#fff" />
<path d="M441,401 Q446,381 462,371 L514,350 L559,328 L621,311.5 Q632,309 634,318" stroke-width="6.9" fill="none" />
<polyline points="633.5,316 634,440" stroke-width="6.4" stroke-linecap="butt"/>
<path d="M441,400 L428,452 L416,528" stroke-width="8.4" fill="none" />
<path d="M403,528 Q403,546 424,552" stroke-width="5.4" fill="none" />
<path d="M424,551 L452,548 L518,541 L597,520 L658,500 L783,466" stroke-width="6.9" fill="none" />
<path d="M644,446 L731,419 Q737,416 739,410" stroke-width="2.7" fill="none" />
<path d="M646,451 L700,439 L760,423" stroke-width="6.9" fill="none" />
<path d="M760,388 L779,396 L772,404" stroke-width="3.7" fill="none" />
<path d="M758,392 L758,420 L770,424 L772,398 Z" stroke-width="2.7" fill="#000" />
<path d="M763,398 L763,416 M767,402 L767,414" stroke="#fff" stroke-width="1.4"/>
<circle cx="765.5" cy="431.5" r="3.4" stroke-width="2.6"/>
<path d="M711,442 L745,433.5 L746,438.5 L712,447.5 Z" stroke-width="3.1" fill="#000" />
<path d="M716,443 L742,437" stroke="#fff" stroke-width="1"/>
<path d="M720,432 L740,427 M724,428 L734,426" stroke-width="3.7" fill="none" />
<polyline points="673,450 677,469" stroke-width="5.4" stroke-linecap="round"/>
<polyline points="694,447 698,463" stroke-width="5.4" stroke-linecap="round"/>
<polyline points="656,452 658,462" stroke-width="4.4" stroke-linecap="round"/>
<polyline points="682,478 692,485" stroke-width="5.4" stroke-linecap="round"/>
<polyline points="702,472 712,479" stroke-width="5.4" stroke-linecap="round"/>
<polyline points="724,466 734,472" stroke-width="4.4" stroke-linecap="round"/>
<path d="M652.6,452 Q650,472 661,486" stroke-width="3.1" fill="none" />
<path d="M659,452 Q657,470 666,484" stroke-width="2.3" fill="none" />
<polyline points="748,444 756,454 780,463" stroke-width="2.3" stroke-dasharray="3 3" stroke-linecap="round"/>
<path d="M762,424 L764,445 L783,462" stroke-width="3.7" fill="none" />
<path d="M562.5,369 L589,367 L634,371" stroke-width="3.7" fill="none" />
<polyline points="576,364 576,414" stroke-width="5.4" stroke-linecap="butt"/>
<path d="M567.5,370 L567.5,416 M571.3,370 L571.3,415" stroke-width="2.3" fill="none" />
<path d="M547,423 L574,414.5 L587.5,411.5 L616,419 L634,428" stroke-width="5.9" fill="none" />
<polyline points="595.5,390.3 631,390.3" stroke-width="2.7" stroke-linecap="round"/>
<polyline points="640,390.3 649,390.3" stroke-width="2.7" stroke-linecap="round"/>
<polyline points="597,403.5 605,403.5" stroke-width="3.1" stroke-linecap="round"/>
<path d="M549,350 L558,348 L559,420 L549,424 Z" stroke-width="2.7" fill="#000" />
<path d="M553,372 L555,372 M553,388 L555,388 M552,400 L556,400" stroke="#fff" stroke-width="1.6"/>
<path d="M553,352 L553,420" stroke-width="3.7" fill="none" />
<path d="M600,330 L606,322 L624,321 L627,340 L622,356 L604,350 Z" stroke-width="2.7" fill="#000" />
<path d="M607,334 L611,332 M614,342 L622,338 L620,330 Z M609,346 L613,345" stroke="#fff" stroke-width="1.8" fill="#fff"/>
<circle cx="622" cy="327" r="2.4" stroke="#000" stroke-width="2.4" fill="#fff"/>
<polyline points="590,358 620,373" stroke-width="8.4" stroke-linecap="butt"/>
<polyline points="620,372 630,368" stroke-width="4.4" stroke-linecap="round"/>
<path d="M576,333 L600,326 L604,332 L582,340 Z" stroke-width="2.7" fill="none" />
<path d="M543,340 L556,334 L566,338 L574,350 L566,356 L548,352 Z" stroke-width="2.7" fill="#000" />
<path d="M548,344 L556,340 M560,346 L566,350" stroke="#fff" stroke-width="2"/>
<path d="M566,338 L574,334 L576,350" stroke-width="3.7" fill="none" />
<path d="M556,356 L566,362 L572,358" stroke-width="4.4" fill="none" />
<path d="M536,345 L546,352" stroke-width="3.7" fill="none" />
<path d="M522,352 Q524,362 536,368" stroke-width="2.5" fill="none" />
<path d="M511,355 L534,372 L548,378" stroke-width="3.8" fill="none" />
<path d="M524,372 L544,382 M530,380 L546,388" stroke-width="2.7" fill="none" stroke-dasharray="5 2" />
<path d="M536,384 L549,396" stroke-width="4.4" fill="none" />
<path d="M454,372 L470,364 L490,372 L510,386 L512,398 L498,402 L478,398 L458,388 Z" stroke-width="2.7" fill="#000" />
<path d="M462,376 L472,372 M474,380 L488,378 L498,388 M468,388 L484,392 M492,394 L504,394 M480,384 L486,388" stroke="#fff" stroke-width="2"/>
<path d="M470,364 L480,362 L512,384 L514,400" stroke-width="3.7" fill="none" />
<path d="M510,380 L514,378 L514,398" stroke-width="3.1" fill="none" />
<path d="M509,388 L512,384 L512,394 Z" fill="#fff" stroke="none"/>
<path d="M458,388 L470,400 L488,404 L508,404" stroke-width="4.9" fill="none" />
<path d="M453,392 L468,400 L468,446 L460,450 L452,440 L456,420 L452,404 Z" stroke-width="2.7" fill="#000" />
<path d="M445,404 L458,402 M444,412 L460,410 M456,430 L460,446" stroke="#fff" stroke-width="2.6"/>
<circle cx="449" cy="428.7" r="8" stroke="#000" stroke-width="3" fill="#fff"/>
<path d="M451,424 Q444,426 447,433" stroke-width="2.9" fill="none" />
<circle cx="453" cy="427" r="1" fill="#000"/>
<path d="M468,404 L480,412 L482,420 L474,422" stroke-width="3.8" fill="none" />
<path d="M470,430 L472,446" stroke-width="3.1" fill="none" />
<path d="M432,450 L452,445" stroke-width="2.3" fill="none" stroke-dasharray="6 2" />
<path d="M456,452 L462,458 L458,464" stroke-width="3.8" fill="none" />
<path d="M507,398 L535,398 L531,416 L512,507 Q510,519 500,521 L452,528" stroke-width="6.4" fill="none" />
<path d="M474,401 L508,399" stroke-width="4.4" fill="none" />
<path d="M516.5,400 L498,496 Q496,504 488,506 L458,511" stroke-width="3.1" fill="none" />
<polyline points="476,446 449,524" stroke-width="12.4" stroke-linecap="butt"/>
<line x1="470" y1="448" x2="466" y2="460" stroke="#fff" stroke-width="2.4"/>
<path d="M414,528 L448,524 L452,540 M420,536 L436,548 M428,528 L440,546" stroke-width="3.8" fill="none" />
<path d="M404,538 L424,540 L446,552" stroke-width="3.8" fill="none" />
<path d="M440,528 L450,526 L452,548 L440,548 Z" stroke-width="2.3" fill="#000" />
<path d="M444,532 L448,544" stroke="#fff" stroke-width="1.6"/>
<path d="M531,437 L549,426 L556,437 L563,446 L567,438 Q596,426 626,446" stroke-width="4.0" fill="none" />
<path d="M538,460 L556,462 L570,458 Q584,450 600,453 L617,458" stroke-width="4.0" fill="none" />
<path d="M531,466 L541,468 L537,480 L545,496" stroke-width="5.4" fill="none" />
<path d="M526,470 L548,470 M531,482 L548,478 M534,488 L540,500" stroke-width="3.8" fill="none" />
<path d="M549,426 L575,420" stroke-width="3.7" fill="none" />
<path d="M634,438 L629,446 L626,470 L618,484" stroke-width="3.7" fill="none" />
<path d="M596,420 L634,440" stroke-width="5.4" fill="none" />
<path d="M622,472 L638,470 L640,478 M618,476 L620,490 L636,496" stroke-width="3.1" fill="none" />
<path d="M571,484 Q567,490 574,495 L600,510 L612,512" stroke-width="3.3" fill="none" />
<path d="M578,486 L592,490 M596,488 L604,492 M588,494 L610,504" stroke-width="2.3" fill="none" stroke-dasharray="4 3" />
<path d="M608,500 L610,516" stroke-width="4.9" fill="none" />
<path d="M616,502 L636,506" stroke-width="3.7" fill="none" stroke-dasharray="3 2" />
<circle cx="456" cy="344" r="1.1" fill="#000"/>
<circle cx="391" cy="458" r="1.1" fill="#000"/>
<circle cx="438" cy="490" r="1.1" fill="#000"/>
<circle cx="420" cy="418" r="1.1" fill="#000"/>
<circle cx="528" cy="533" r="3" fill="#000"/>
<polyline points="576,462 694,526" stroke-width="2.7" stroke-linecap="round"/>
<polyline points="578,466 590,470" stroke-width="3.7" stroke-linecap="round"/>
<circle cx="707.6" cy="536.5" r="14.5" stroke-width="2.4" fill="#fff"/>
<text x="707.6" y="546" font-size="26" font-weight="bold" fill="#000" text-anchor="middle" stroke="#000" stroke-width="0.3">A</text>
<path d="M538,546.6 L592.5,531 L616,544.5 L563,561 Z" stroke-width="2.7" fill="#fff" />
<polyline points="572,532 572,546.6" stroke-width="2.3" stroke-linecap="round"/>
<polyline points="584.3,557 584.3,569" stroke-width="2.3" stroke-linecap="round"/>
<path d="M570,574 L602,592 M570,592 L602,574" stroke-width="1.7"/>
<path d="M388,300 L451,286.5 Q456,287 456,292 L454.5,324 Q454,328 450,329 L380,351 Q375,351 375,347 L385,304 Q386,301 388,300 Z" stroke-width="2.9" fill="none" />
<polyline points="368,321.4 381,321.4" stroke-width="2.3" stroke-dasharray="5 3" stroke-linecap="round"/>
<path d="M487,270 L492,258 L499.5,246.5 L505.5,247.4 L518.5,256 Q522,260 521.7,264 L517,274.5 L510.5,283.5 L496,285 Z" stroke-width="3.6" fill="#fff" />
<path d="M499.5,247 L502,256 L508,258 L518,262" stroke-width="3.3" fill="none" />
<path d="M492,268 L496,262 L498,270" stroke-width="2.7" fill="none" />
<path d="M502,264 Q508,260 512,266 L511,282 L503,284 Z" stroke-width="2.7" fill="#000" />
<path d="M506,268 L509,268 M507,276 L509,280" stroke="#fff" stroke-width="1.8"/>
<path d="M528,256 Q536,252 542,260 Q546,268 540,272 Q532,270 528,262 Z" stroke-width="3.1" fill="#000" />
<polyline points="540,270 538,283" stroke-width="3.7" stroke-linecap="round"/>
<polyline points="520,252 525,253.5" stroke-width="2.7" stroke-linecap="round"/>
<polyline points="547,258 581,248" stroke-width="2.7" stroke-dasharray="7 3 2 3" stroke-linecap="round"/>
<path d="M489,292 L506.5,295.5 L521,289.5 L526.5,294 L523.5,300.5 L514.5,303 L509.5,308.5 L500,304 Z" stroke-width="3.8" fill="#000" />
<path d="M497,296.5 L506,301 L507,299 Z M513,298 L520,295.5 L519.5,297.5 L513.5,300 Z" fill="#fff" stroke="#fff" stroke-width="1"/>
<polyline points="529,295 537,295" stroke-width="2.7" stroke-linecap="round"/>
<polyline points="543,295 552,292" stroke-width="2.7" stroke-linecap="round"/>
<circle cx="561" cy="290" r="1.2" fill="#000"/>
<polyline points="572,286.5 580,285" stroke-width="2.7" stroke-dasharray="2 3" stroke-linecap="round"/>
<polyline points="512.5,312 512.5,360" stroke-width="2.7" stroke-dasharray="9 3 2 3" stroke-linecap="round"/>
<circle cx="513.5" cy="313" r="1.2" fill="#000"/>
<path d="M347,388 L368,401 M368,388 L347,401 M357.5,385 L357.5,405" stroke-width="2.7" fill="none" />
<polyline points="370,394.6 430,394.6" stroke-width="2.5" stroke-dasharray="10 3 2 3" stroke-linecap="round"/>
<circle cx="347" cy="405" r="1" fill="#000"/>
<circle cx="353" cy="458" r="1" fill="#000"/>
<circle cx="332" cy="470" r="1" fill="#000"/>
<circle cx="283" cy="488" r="1" fill="#000"/>
<circle cx="265" cy="492" r="1" fill="#000"/>
<circle cx="240" cy="505" r="1" fill="#000"/>
<circle cx="301" cy="518" r="1" fill="#000"/>
<path d="M265,517 L271,512 L280,510.5 L290,515 L285,519.5 L278,521.5 L276,524 L275,537 L271,540 L266,537 L264.5,525 Z" stroke-width="2.9" fill="#fff" />
<polyline points="270,527 270,531" stroke-width="2.1" stroke-linecap="round"/>
<path d="M337,511 L350.5,505.5 L367,506.5 Q373,510 372,514 L366,518 L362,528 L363.5,537 L360,558 L343,562.5" stroke-width="4.4" fill="#fff" />
<path d="M342,514 L352,510 L364,511 L358,518 L344,520 Z" stroke-width="2.7" fill="#fff" />
<path d="M295,535 L336.5,524 L343,530 L343,562 L338,574 L309.5,584 L295,576.5 Z" stroke-width="3.8" fill="#fff" />
<path d="M300,541 L336,531" stroke-width="2.7" fill="none" />
<path d="M306,544 L318,541 L318,556 L326,554 L326,566 L332,572 L318,580 L308,578 L310,560 L304,556 Z" stroke-width="2.3" fill="#000" />
<path d="M311,549 L315,548 M312,566 L322,563 L324,572 M313,574 L317,576" stroke="#fff" stroke-width="2.2"/>
<path d="M322,540 L322,552 M328,538 L328,552 L334,550 L334,568 M338,540 L340,566" stroke-width="3.7" fill="none" />
<path d="M296,574 L308,582 L338,573" stroke-width="4.9" fill="none" />
<path d="M336,524 L338,512 L350,518 L348,532 Z" stroke-width="3.1" fill="#000" />
<path d="M341,518 L345,521 M342,526 L346,527" stroke="#fff" stroke-width="1.4"/>
<ellipse cx="358.7" cy="545" rx="5.5" ry="9" stroke-width="3.7" fill="#000"/>
<circle cx="358" cy="546" r="1.4" fill="#fff" stroke="none"/>
<polyline points="344,552 351,530" stroke-width="2.3" stroke-dasharray="4 3" stroke-linecap="round"/>
<polyline points="256.5,562.5 295,562.5" stroke-width="2.7" stroke-linecap="round"/>
<polyline points="316.4,583 316.4,602" stroke-width="3.3" stroke-linecap="round"/>
<path d="M294,611 L296.6,639.8 Q300,644 310,642 L333,636 L334,608" stroke-width="3.3" fill="#fff" />
<path d="M287,602 L296,606 L322,600 L337,606 L334,610 L296,618 Z" stroke-width="3.1" fill="#000" />
<path d="M302,609 L310,607 M318,605 L326,604" stroke="#fff" stroke-width="2.4"/>
<path d="M300,616 L300,626 M314,613 L314,624 Q316,628 318,624 L318,612 M326,610 L326,620 M330,609 L330,620" stroke-width="3.3" fill="none" />
<polyline points="273,620.7 293,620.7" stroke-width="2.7" stroke-linecap="round"/>
<polygon points="384.4,582.6 376.0,577.7 367.9,577.4 371.5,584.6 379.6,590.2" fill="#000" stroke="#000" stroke-width="1.4"/>
<circle cx="378.5" cy="584.2" r="0.7" fill="#999" stroke="none"/>
<circle cx="375.6" cy="582.3" r="0.7" fill="#999" stroke="none"/>
<circle cx="386.2" cy="589.1" r="5.3" stroke-width="3.4" fill="#bbb"/>
<path d="M384.0,588.3 L388.4,589.9" stroke-width="1.6"/>
<polygon points="360.8,591.0 349.1,584.8 339.6,584.1 345.0,592.0 356.3,598.8" fill="#000" stroke="#000" stroke-width="1.4"/>
<circle cx="353.1" cy="591.8" r="0.7" fill="#999" stroke="none"/>
<circle cx="349.4" cy="589.7" r="0.7" fill="#999" stroke="none"/>
<circle cx="362.9" cy="597.4" r="5.3" stroke-width="3.4" fill="#bbb"/>
<path d="M360.7,596.6 L365.1,598.2" stroke-width="1.6"/>
<polyline points="344,577 352,575 360,577" stroke-width="2.1" stroke-dasharray="4 2" stroke-linecap="round"/>
<polyline points="388,598 388,617.3 380,620" stroke-width="2.3" stroke-linecap="round"/>
<polyline points="373,622 366.2,624 364.6,606" stroke-width="2.3" stroke-linecap="round"/>
<polyline points="377.2,621 377.2,635" stroke-width="2.5" stroke-linecap="round"/>
<path d="M501,559 L502.6,572 Q504,580 512,583 Q520,586 520.5,596 L521,618" stroke-width="4.8" fill="none" />
<path d="M516,557.5 L517,570 Q518,577 526,579 Q533,582 533.5,590 L534,615 L520,624" stroke-width="4.8" fill="none" />
<polyline points="464.3,553 464.3,629 482,638" stroke-width="2.3" stroke-linecap="round"/>
<polyline points="476,627 500,641" stroke-width="2.1" stroke-linecap="round"/>
<polyline points="526,617 385,698" stroke-width="11.4" stroke-linecap="butt"/>
<line x1="524" y1="618.5" x2="388" y2="696" stroke="#fff" stroke-width="6" stroke-linecap="butt"/>
<polyline points="464,640 470,652" stroke-width="7.4" stroke-linecap="round"/>
<polyline points="383,690 389,702" stroke-width="6.4" stroke-linecap="round"/>
<polyline points="428.8,681.5 428.8,696" stroke-width="2.5" stroke-linecap="round"/>
<polyline points="418,688 420,686" stroke-width="2.1" stroke-linecap="round"/>
<polyline points="440,672 444,670" stroke-width="2.1" stroke-linecap="round"/>
<path d="M387,696 Q330,728 312,772 Q302,812 340,842 Q380,872 450,882 Q520,884 572,863" stroke-width="10.4" fill="none" />
<path d="M387,696 Q330,728 312,772 Q302,812 340,842 Q380,872 450,882 Q520,884 572,863" stroke="#fff" stroke-width="4.6"/>
<path d="M387,696 Q330,728 312,772 Q302,812 340,842 Q380,872 450,882 Q520,884 572,863" stroke="#000" stroke-width="1" stroke-dasharray="2 9"/>
<path d="M569,856 L590,848 L604,836 Q610,822 622,825 Q634,830 636,848 Q638,868 628,876 Q616,878 610,868 L604,864 L580,872 L572,868 Z" stroke-width="3.1" fill="#fff" />
<path d="M572,860 L598,852 L600,858 L578,866 Z" stroke-width="2.7" fill="#000" />
<path d="M616,830 Q610,838 616,846 M622,834 Q628,850 622,866 M610,862 Q614,872 622,874" stroke-width="2.3" fill="none" />
<polyline points="636,847.7 652,846" stroke-width="5.4" stroke-linecap="round"/>
<line x1="637" y1="847.5" x2="651" y2="846" stroke="#fff" stroke-width="1.6"/>
<polyline points="574,782 574,800" stroke-width="3.1" stroke-linecap="round"/>
<polyline points="527.5,800.5 623,800.5" stroke-width="3.1" stroke-linecap="square"/>
<polyline points="527.5,800.5 527.5,869" stroke-width="3.1" stroke-linecap="round"/>
<polyline points="623,800.5 623,819" stroke-width="3.1" stroke-linecap="round"/>
<path d="M507,645 Q511,640 516,646 L526,664" stroke-width="7.9" fill="none" />
<path d="M506,650 L518,668" stroke-width="3.7" fill="none" />
<path d="M509,646 L513,653 M516,655 L519,653 M518,659 L522,657 M521,663 L524,661" stroke="#fff" stroke-width="1.4"/>
<polyline points="517.5,666 517.5,693" stroke-width="2.5" stroke-linecap="round"/>
<polyline points="494,652 500,655" stroke-width="2.1" stroke-linecap="round"/>
<polyline points="529,658 536,651.5" stroke-width="2.1" stroke-dasharray="4 3" stroke-linecap="round"/>
<polyline points="527,668 534,672" stroke-width="2.3" stroke-linecap="round"/>
<polygon points="563.0,658.6 552.7,654.3 544.1,654.9 549.3,661.8 559.3,666.8" fill="#000" stroke="#000" stroke-width="1.4"/>
<circle cx="556.6" cy="660.6" r="0.7" fill="#999" stroke="none"/>
<circle cx="553.2" cy="659.1" r="0.7" fill="#999" stroke="none"/>
<circle cx="565.7" cy="664.8" r="5.3" stroke-width="3.4" fill="#bbb"/>
<path d="M563.5,664.0 L567.9,665.6" stroke-width="1.6"/>
<polygon points="561.8,680.8 552.4,676.2 544.1,676.5 548.6,683.5 557.6,688.7" fill="#000" stroke="#000" stroke-width="1.4"/>
<circle cx="555.7" cy="682.6" r="0.7" fill="#999" stroke="none"/>
<circle cx="552.5" cy="681.0" r="0.7" fill="#999" stroke="none"/>
<circle cx="564.1" cy="687.1" r="5.3" stroke-width="3.4" fill="#bbb"/>
<path d="M561.9,686.3 L566.3,687.9" stroke-width="1.6"/>
<polyline points="573,664.8 590.7,664.8 590.7,689 574,689" stroke-width="2.5" stroke-linecap="round"/>
<polyline points="590.7,678 604,678" stroke-width="2.5" stroke-linecap="round"/>
<ellipse cx="1057.6" cy="554.3" rx="19.5" ry="7.2" stroke-width="2.7" fill="#000"/>
<ellipse cx="1057.6" cy="554.6" rx="10.5" ry="2.6" fill="#fff" stroke="none"/>
<polyline points="1078,548 1102,530.5" stroke-width="2.7" stroke-linecap="round"/>
<path d="M1040,576 L1040,585 Q1058,596 1077,585 L1077,576" stroke-width="3.3" fill="#fff" />
<ellipse cx="1058.5" cy="576" rx="18.5" ry="6" stroke-width="3.3" fill="#000"/>
<ellipse cx="1058.5" cy="576.5" rx="12" ry="2" fill="none" stroke="#fff" stroke-width="1.4" stroke-dasharray="3 2"/>
<polyline points="1078,580 1109,580" stroke-width="2.7" stroke-linecap="round"/>
<ellipse cx="1057.6" cy="601.4" rx="14" ry="6.5" stroke-width="3.1" fill="#000"/>
<path d="M1049,602 L1066,602" stroke="#fff" stroke-width="1.4" stroke-dasharray="5 2"/>
<polyline points="997,575 1042,598.5" stroke-width="2.3" stroke-dasharray="7 3 2 3" stroke-linecap="round"/>
<circle cx="987.4" cy="600.5" r="14.6" stroke-width="2.4" fill="#fff"/>
<text x="987.4" y="610" font-size="26" font-weight="bold" fill="#000" text-anchor="middle" stroke="#000" stroke-width="0.3">A</text>
<polyline points="1001,609 1032,624.5" stroke-width="2.7" stroke-linecap="round"/>
<polyline points="1058,541 1058,547" stroke-width="2.3" stroke-linecap="round"/>
<polyline points="1058,563 1058,569" stroke-width="2.1" stroke-linecap="round"/>
<polyline points="1058,592 1058,596" stroke-width="2.1" stroke-linecap="round"/>
<polyline points="1058,609 1058,628" stroke-width="2.1" stroke-linecap="round"/>
<path d="M1112,575 L1150,598 M1112,598 L1150,575" stroke-width="1.8"/>
<path d="M898,641 L940,663 M898,663 L940,641" stroke-width="1.8"/>
<path d="M983,623 L986,620 L994,622 L1006,625 L1025,619.5 L1049,614 L1100,614 L1114,620 L1270,577.5 L1277,588.5 L1278.5,594 L1268,600.5 L1230.5,619.5 L1229,636.5 L1191,646 L1138,662 L1136,666 L1126,671 L1121,684.5 L1040.5,707.5 L1003,700 L986,691 L975,676 L976.5,636.5 L982,633 Z" stroke-width="3.7" fill="#fff" />
<path d="M1114,620 L1130,631 L1134.5,636.5 L1136,665" stroke-width="3.7" fill="none" />
<path d="M1131,631 L1213.5,607.5 L1220.5,611 L1222,621" stroke-width="2.7" fill="none" />
<path d="M1191,630 Q1191,626 1196,625 L1206,622 M1191,630 L1191,645" stroke-width="2.3" fill="none" />
<path d="M1114,621 L1126,632 L1132,630" stroke-width="4.4" fill="none" />
<path d="M985,691 Q975,694 969,688 Q966,680 972,677 L984,676" stroke-width="3.7" fill="#fff" />
<ellipse cx="978" cy="686" rx="3" ry="4" stroke-width="2.3" fill="none"/>
<ellipse cx="1057.6" cy="629.5" rx="17" ry="6" stroke-width="3.1" fill="none"/>
<path d="M1044,628 Q1058,636 1072,628" stroke-width="2.7" fill="none" />
<path d="M1040,624 L1046,622 M1066,620 L1078,622 L1080,634 M1084,622 L1086,632" stroke-width="2.7" fill="none" stroke-dasharray="5 2" />
<path d="M1010,638 L1012,652 M1016,636 L1030,634 M1020,644 L1020,654 L1034,650 M1038,640 L1040,652" stroke-width="2.9" fill="none" stroke-dasharray="6 2" />
<path d="M1040,650 L1052,654 L1056,662 L1058,672 L1052.5,672.5" stroke-width="3.1" fill="none" />
<path d="M1046,656 L1054,660 M1048,662 L1056,666" stroke-width="3.1" fill="none" />
<polyline points="1052.5,672.5 1114,657 1123,667" stroke-width="2.5" stroke-dasharray="8 3 2 3" stroke-linecap="round"/>
<polyline points="1047.4,670 1047.4,682" stroke-width="2.5" stroke-dasharray="2 5" stroke-linecap="round"/>
<path d="M988,624 Q992,618 998,624" stroke-width="3.8" fill="none" />
<path d="M1142,646 L1156,640 L1158,654 L1144,660 Z M1148,646 L1150,656 M1142,652 L1156,648" stroke-width="2.7" fill="none" />
<path d="M1134.7,634 L1136.4,664" stroke-width="4.9" fill="none" />
<path d="M1088,684 Q1090,680 1094,682 M1090,686 L1092,692" stroke-width="2.3" fill="none" />
<path d="M1038,695 L1040,704 M1038,695 L1044,696" stroke-width="2.3" fill="none" />
<path d="M1124,642 L1126,648" stroke-width="2.3" fill="none" />
<polyline points="1150,621 1152,620.4" stroke-width="2.1" stroke-linecap="round"/>
<polyline points="1165,617 1167,616.4" stroke-width="2.1" stroke-linecap="round"/>
<polyline points="1178,613 1180,612.4" stroke-width="2.1" stroke-linecap="round"/>
<polyline points="1190,610 1192,609.4" stroke-width="2.1" stroke-linecap="round"/>
<path d="M1196,607 L1206,603 L1212,605" stroke-width="2.7" fill="none" />
<ellipse cx="1222" cy="595.5" rx="8" ry="3.6" stroke-width="2.7" fill="#000"/>
<ellipse cx="1254.5" cy="586" rx="8" ry="3.6" stroke-width="2.7" fill="#000"/>
<path d="M1246,581 L1268,576" stroke-width="3.7" fill="none" />
<path d="M1270,580 L1262,598 L1250,600" stroke-width="2.1" fill="none" />
<polyline points="960,648.5 974.5,648.5" stroke-width="2.7" stroke-linecap="round"/>
<polyline points="967,685 825,722.5 825,985" stroke-width="2.7" stroke-linecap="round"/>
<polyline points="825,985 800,992" stroke-width="2.3" stroke-linecap="round"/>
<polyline points="792,994 770,1000" stroke-width="2.3" stroke-dasharray="8 3 2 3" stroke-linecap="round"/>
<path d="M1219.3999999999999,491.6 L1219.3999999999999,514 L1226.2,514 L1226.2,491.6 Z" stroke-width="2.3" fill="#000" />
<line x1="1222.8" y1="496.6" x2="1222.8" y2="512" stroke="#fff" stroke-width="1.2" stroke-dasharray="2 2"/>
<ellipse cx="1222.8" cy="488.6" rx="6.4" ry="5.6" stroke-width="3.3" fill="#fff"/>
<path d="M1218.8,488.6 Q1222.8,491.6 1226.8,488.6" stroke-width="2.3" fill="none" />
<path d="M1251.3,482 L1251.3,500.5 L1258.1000000000001,500.5 L1258.1000000000001,482 Z" stroke-width="2.3" fill="#000" />
<line x1="1254.7" y1="487" x2="1254.7" y2="498.5" stroke="#fff" stroke-width="1.2" stroke-dasharray="2 2"/>
<ellipse cx="1254.7" cy="479" rx="6.4" ry="5.6" stroke-width="3.3" fill="#fff"/>
<path d="M1250.7,479 Q1254.7,482 1258.7,479" stroke-width="2.3" fill="none" />
<ellipse cx="1222" cy="518.5" rx="9" ry="5" stroke-width="2.7" fill="#000"/>
<ellipse cx="1255.4" cy="507.6" rx="9" ry="5" stroke-width="2.7" fill="#000"/>
<path d="M1218,519 L1221,521 L1226,517 M1251,507 L1259,506" stroke="#fff" stroke-width="1.4"/>
<polyline points="1191,500 1215,500" stroke-width="2.7" stroke-linecap="round"/>
<polyline points="1230,496.7 1248,492.6" stroke-width="2.5" stroke-linecap="round"/>
<polyline points="1192,519.2 1202,519.2" stroke-width="2.5" stroke-dasharray="5 3" stroke-linecap="round"/>
<polyline points="1232,515.8 1245,511.7" stroke-width="2.5" stroke-linecap="round"/>
<path d="M1176,550 Q1176,546 1180,546 L1287,516.5 L1300,522 L1312,545 L1291.5,548.5 L1203,569 Q1200,569 1200,565 Q1196,556 1184,551 L1178,556 Q1175,554 1176,550 Z" stroke-width="3.3" fill="#fff" />
<path d="M1184,551 L1290,522" stroke-width="2.3" fill="none" />
<path d="M1200,565 L1296,541" stroke-width="2.1" fill="none" />
<path d="M1203,546.5 L1277,526 Q1284,526.5 1280,531 L1206,551.5 Q1199,551 1203,546.5 Z" stroke-width="2.0" fill="none" />
<polyline points="1207,555.5 1305,531.5" stroke-width="2.5" stroke-dasharray="7 2 2 2" stroke-linecap="round"/>
<polyline points="1210,558.5 1260,546" stroke-width="1.9" stroke-dasharray="3 3" stroke-linecap="round"/>
<path d="M1176,550 L1180,556 L1184,551" stroke-width="3.8" fill="none" />
<polyline points="1224.4,523 1224.4,547" stroke-width="2.5" stroke-linecap="round"/>
<polyline points="1255.4,512 1255.4,532" stroke-width="2.5" stroke-linecap="round"/>
<polyline points="1224.1,567.5 1224.1,590.5" stroke-width="2.7" stroke-linecap="round"/>
<polyline points="1255.4,560.5 1255.4,581" stroke-width="2.7" stroke-linecap="round"/>
<path d="M1296,478 Q1298,476 1301,477.5 L1337.5,498 Q1344,503 1344,510 L1344.5,590 Q1343,598 1336,597 L1294,575.5 L1300,566 L1322,578 L1326,580 L1335,560 L1335,505 L1300,486 L1300,520 L1293,517 L1293,488 Q1293,482 1296,478 Z" stroke-width="3.3" fill="#fff" />
<path d="M1335,505 L1335,588 M1339,503 L1339,592" stroke-width="3.7" fill="none" />
<path d="M1296,480 L1334,500" stroke-width="3.1" fill="none" />
<path d="M1300,486 L1300,517" stroke-width="2.3" fill="none" />
<path d="M1308,516 L1308,524 L1311,518 L1327,526 L1328,547" stroke-width="2.7" fill="none" />
<path d="M1292,546 L1302,541 L1330,584 L1322,590 L1296,575 L1300,566 Z" stroke-width="2.7" fill="#000" />
<path d="M1299,550 L1312,574" stroke="#fff" stroke-width="2"/>
<ellipse cx="1326" cy="566" rx="5.5" ry="7.5" stroke-width="3.7" fill="#000"/>
<path d="M1324,562 L1328,570" stroke="#fff" stroke-width="1.2"/>
<path d="M1322,578 L1336,592" stroke-width="3.6" fill="none" />
<polyline points="1347,541 1369,541" stroke-width="2.7" stroke-linecap="round"/>
<polyline points="1276.5,596 1291.5,605.5" stroke-width="2.5" stroke-linecap="round"/>
<polygon points="1313.4,611.7 1301.0,605.8 1291.5,605.5 1297.2,613.1 1309.2,619.7" fill="#000" stroke="#000" stroke-width="1.4"/>
<circle cx="1305.3" cy="612.6" r="0.7" fill="#999" stroke="none"/>
<circle cx="1301.5" cy="610.7" r="0.7" fill="#999" stroke="none"/>
<circle cx="1315.3" cy="617.8" r="4.8" stroke-width="3.4" fill="#bbb"/>
<path d="M1313.1,617.0 L1317.5,618.6" stroke-width="1.6"/>
<polyline points="1323,618.5 1346,618.5" stroke-width="2.5" stroke-linecap="round"/>
<ellipse cx="1057.6" cy="722.6" rx="15" ry="6" stroke-width="3.1" fill="#fff"/>
<ellipse cx="1057.6" cy="723" rx="8" ry="3.4" stroke-width="2.7" fill="#000"/>
<path d="M1054,722 L1061,722" stroke="#fff" stroke-width="1.2"/>
<polyline points="1074,722.6 1126,722.6" stroke-width="2.5" stroke-dasharray="18 3 2 3" stroke-linecap="round"/>
<polyline points="1057.6,711 1057.6,720" stroke-width="2.3" stroke-linecap="round"/>
<ellipse cx="1025" cy="732.6" rx="13" ry="5.4" stroke-width="2.7" fill="#000"/>
<path d="M1016,732.5 L1034,732.5" stroke="#fff" stroke-width="1.2" stroke-dasharray="4 3"/>
<polyline points="972.5,732.6 1011,732.6" stroke-width="2.5" stroke-dasharray="14 2 3 2" stroke-linecap="round"/>
<ellipse cx="1083" cy="744" rx="10.5" ry="4.2" stroke-width="2.7" fill="#000"/>
<circle cx="1077" cy="744" r="1.2" fill="#fff" stroke="none"/><circle cx="1089" cy="744" r="1.2" fill="#fff" stroke="none"/>
<polyline points="1096,744 1126,744" stroke-width="2.7" stroke-linecap="round"/>
<ellipse cx="1025" cy="759.5" rx="28" ry="11" stroke-width="3.3" fill="#fff"/>
<ellipse cx="1025" cy="759" rx="7" ry="2.8" stroke-width="2.3" fill="#000"/>
<polyline points="972.5,759.5 997,759.5" stroke-width="2.7" stroke-linecap="round"/>
<polyline points="1025,744.5 1025,751" stroke-width="2.3" stroke-linecap="round"/>
<polyline points="1083.9,706 1083.9,735" stroke-width="2.5" stroke-dasharray="8 3 2 3" stroke-linecap="round"/>
<polyline points="1083.9,751 1083.9,774" stroke-width="2.5" stroke-dasharray="7 3" stroke-linecap="round"/>
<circle cx="866" cy="745.5" r="7" stroke-width="4.6" fill="#fff"/>
<path d="M868,742 Q863,745 867,749" stroke-width="2.7" fill="none" />
<polyline points="845.5,731 858,740" stroke-width="2.3" stroke-dasharray="3 3" stroke-linecap="round"/>
<polyline points="862,754 862,765" stroke-width="2.5" stroke-linecap="round"/>
<polygon points="896.0,758.9 884.7,752.5 875.3,751.7 880.4,759.6 891.4,766.6" fill="#000" stroke="#000" stroke-width="1.4"/>
<circle cx="888.5" cy="759.6" r="0.7" fill="#999" stroke="none"/>
<circle cx="884.8" cy="757.4" r="0.7" fill="#999" stroke="none"/>
<circle cx="898.0" cy="765.3" r="5.3" stroke-width="3.4" fill="#bbb"/>
<path d="M895.8,764.5 L900.2,766.1" stroke-width="1.6"/>
<polyline points="887.5,770 887.5,782" stroke-width="2.5" stroke-linecap="round"/>
<path d="M984,800.6 L1001.5,794.3 L1002,790.5 L1043,780.7 L1054,786.1 L1083,784.3 L1108.5,798.8 L1108,806 L1098,808 L1108.5,815.1 L1106.5,820.6 L1063,833.3 L1036,835.1 L1012,829.6 L985,815.1 Z" stroke-width="3.5" fill="#fff" />
<path d="M985,810 L1012,824.5 L1036,830 L1063,828 L1106,815.5" stroke-width="2.3" fill="none" />
<ellipse cx="1024" cy="811.5" rx="31" ry="11.5" transform="rotate(8 1024 811.5)" stroke-width="2.4"/>
<ellipse cx="1024" cy="812.5" rx="26" ry="8.6" transform="rotate(8 1024 812.5)" stroke-width="2"/>
<polyline points="1048,803.3 1088,793.4" stroke-width="5.9" stroke-linecap="round"/>
<line x1="1052" y1="802.3" x2="1085" y2="794.2" stroke="#fff" stroke-width="1.2" stroke-dasharray="4 3"/>
<path d="M1100,800 Q1096,804 1100,808" stroke-width="2.3" fill="none" />
<path d="M984,861.4 L1001.5,855.0999999999999 L1002,851.3 L1043,841.5 L1054,846.9 L1083,845.0999999999999 L1108.5,859.5999999999999 L1108,866.8 L1098,868.8 L1108.5,875.9 L1106.5,881.4 L1063,894.0999999999999 L1036,895.9 L1012,890.4 L985,875.9 Z" stroke-width="3.5" fill="#fff" />
<path d="M985,870.8 L1012,885.3 L1036,890.8 L1063,888.8 L1106,876.3" stroke-width="2.3" fill="none" />
<ellipse cx="1024" cy="872.3" rx="31" ry="11.5" transform="rotate(8 1024 872.3)" stroke-width="2.4"/>
<ellipse cx="1024" cy="873.3" rx="26" ry="8.6" transform="rotate(8 1024 873.3)" stroke-width="2"/>
<polyline points="1048,864.1 1088,854.2" stroke-width="5.9" stroke-linecap="round"/>
<line x1="1052" y1="863.0999999999999" x2="1085" y2="855.0" stroke="#fff" stroke-width="1.2" stroke-dasharray="4 3"/>
<path d="M1100,860.8 Q1096,864.8 1100,868.8" stroke-width="2.3" fill="none" />
<polyline points="1025,780 1025,808" stroke-width="2.5" stroke-dasharray="9 3 2 3" stroke-linecap="round"/>
<polyline points="1083.9,780 1083.9,798" stroke-width="2.5" stroke-dasharray="8 3" stroke-linecap="round"/>
<polyline points="1025,838 1025,872" stroke-width="2.5" stroke-dasharray="9 3 2 3" stroke-linecap="round"/>
<polyline points="1083.9,840 1083.9,858" stroke-width="2.5" stroke-dasharray="3 3" stroke-linecap="round"/>
<polyline points="1110,805.2 1120.2,805.2 1120.2,871.4 1110,871.4" stroke-width="2.7" stroke-linecap="round"/>
<polyline points="1120.2,841.4 1126.5,841.4" stroke-width="2.7" stroke-linecap="round"/>
<ellipse cx="1084.5" cy="904.7" rx="11" ry="4.2" stroke-width="2.7" fill="#000"/>
<circle cx="1079" cy="904.7" r="1.2" fill="#fff" stroke="none"/><circle cx="1090" cy="904.7" r="1.2" fill="#fff" stroke="none"/>
<polyline points="1097,903.8 1125,903" stroke-width="2.7" stroke-linecap="round"/>
<ellipse cx="1084.5" cy="921" rx="10.5" ry="4.4" stroke-width="2.7" fill="#000"/>
<polyline points="1096,920.6 1128,920.2" stroke-width="2.7" stroke-linecap="round"/>
<path d="M1127,913 L1166,936 M1127,936 L1166,913" stroke-width="1.8"/>
<ellipse cx="1025.5" cy="912.6" rx="11" ry="6.4" stroke-width="2.7" fill="#000"/>
<path d="M1025.5,907 L1025.5,918" stroke="#fff" stroke-width="1.2"/>
<polyline points="973.5,913.2 1014,913.2" stroke-width="2.7" stroke-linecap="round"/>
<path d="M1014,928 Q1014,924 1026,924 Q1038.5,924 1038.5,928 L1038.5,939.5 Q1038.5,943.5 1026,943.5 Q1014,943.5 1014,939.5 Z" stroke-width="2.7" fill="#000" />
<path d="M1018,937.5 Q1026,940.5 1035,937.5" stroke="#fff" stroke-width="1.2" fill="none"/>
<path d="M1014,953 Q1014,949 1026,949 Q1038.5,949 1038.5,953 L1038.5,964 Q1038.5,968 1026,968 Q1014,968 1014,964 Z" stroke-width="2.7" fill="#000" />
<path d="M1018,962 Q1026,965 1035,962" stroke="#fff" stroke-width="1.2" fill="none"/>
<path d="M1019,956 L1033,956 M1019,960 L1033,960" stroke="#fff" stroke-width="1" stroke-dasharray="3 2"/>
<polyline points="974.5,947 996.4,947" stroke-width="2.7" stroke-linecap="round"/>
<polyline points="1014,933 996.4,933 996.4,957.6 1014,957.6" stroke-width="2.7" stroke-linecap="round"/>
<ellipse cx="1025.5" cy="979.6" rx="11" ry="6.4" stroke-width="2.7" fill="#000"/>
<path d="M1025.5,974 L1025.5,985" stroke="#fff" stroke-width="1.2"/>
<polyline points="973.5,979.6 1014,979.6" stroke-width="2.7" stroke-linecap="round"/>
<polyline points="1025.5,986 1025.5,995" stroke-width="2.3" stroke-linecap="round"/>
<ellipse cx="1020.2" cy="1003.4" rx="23.5" ry="7.4" stroke-width="5.0" fill="#fff"/>
<polyline points="973.5,1002.6 995,1002.6" stroke-width="2.7" stroke-linecap="round"/>
<path d="M934,904 L972,927 M934,927 L972,904" stroke-width="1.8"/>
<path d="M934,937 L972,960 M934,960 L972,937" stroke-width="1.8"/>
<path d="M934,969 L972,993 M934,993 L972,969" stroke-width="1.8"/>
<path d="M934,1029 L972,1053 M934,1053 L972,1029" stroke-width="1.8"/>
<polyline points="908.5,937.3 919.7,937.3" stroke-width="3.7" stroke-linecap="round"/>
<polyline points="932.9,914.4 919.7,914.4 919.7,981.4 934.6,981.4" stroke-width="3.7" stroke-linecap="square"/>
<polyline points="919.7,950.5 934.6,950.5" stroke-width="3.7" stroke-linecap="round"/>
<ellipse cx="1025.5" cy="1043" rx="36" ry="16" stroke-width="3.7" fill="#000"/>
<ellipse cx="1025.5" cy="1034.5" rx="35.5" ry="12.5" stroke-width="3.7" fill="#fff"/>
<ellipse cx="1023.7" cy="1031" rx="24" ry="9.6" stroke-width="3.1" fill="#fff"/>
<ellipse cx="1025" cy="1029" rx="10" ry="4" stroke-width="2.5" fill="none"/>
<path d="M1016,1033 L1030,1031 L1030,1027" stroke-width="2.3" fill="none" />
<path d="M990,1038 Q992,1050 1025,1053 Q1060,1050 1061,1038" stroke-width="3.7" fill="none" />
<line x1="992.0" y1="1043.0" x2="993.0" y2="1048.6" stroke="#fff" stroke-width="0.9"/>
<line x1="996.2" y1="1043.5" x2="997.2" y2="1049.4" stroke="#fff" stroke-width="0.9"/>
<line x1="1000.4" y1="1044.0" x2="1001.4" y2="1050.2" stroke="#fff" stroke-width="0.9"/>
<line x1="1004.6" y1="1044.5" x2="1005.6" y2="1051.0" stroke="#fff" stroke-width="0.9"/>
<line x1="1008.8" y1="1045.0" x2="1009.8" y2="1051.8" stroke="#fff" stroke-width="0.9"/>
<line x1="1013.0" y1="1045.5" x2="1014.0" y2="1052.6" stroke="#fff" stroke-width="0.9"/>
<line x1="1017.2" y1="1046.0" x2="1018.2" y2="1053.4" stroke="#fff" stroke-width="0.9"/>
<line x1="1021.4" y1="1046.5" x2="1022.4" y2="1054.2" stroke="#fff" stroke-width="0.9"/>
<line x1="1025.6" y1="1047.0" x2="1026.6" y2="1055.0" stroke="#fff" stroke-width="0.9"/>
<line x1="1029.8" y1="1046.5" x2="1030.8" y2="1054.2" stroke="#fff" stroke-width="0.9"/>
<line x1="1034.0" y1="1046.0" x2="1035.0" y2="1053.4" stroke="#fff" stroke-width="0.9"/>
<line x1="1038.2" y1="1045.5" x2="1039.2" y2="1052.6" stroke="#fff" stroke-width="0.9"/>
<line x1="1042.4" y1="1045.0" x2="1043.4" y2="1051.8" stroke="#fff" stroke-width="0.9"/>
<line x1="1046.6" y1="1044.5" x2="1047.6" y2="1051.0" stroke="#fff" stroke-width="0.9"/>
<line x1="1050.8" y1="1044.0" x2="1051.8" y2="1050.2" stroke="#fff" stroke-width="0.9"/>
<line x1="1055.0" y1="1043.5" x2="1056.0" y2="1049.4" stroke="#fff" stroke-width="0.9"/>
<line x1="1059.2" y1="1043.0" x2="1060.2" y2="1048.6" stroke="#fff" stroke-width="0.9"/>
<path d="M1040,1026 Q1046,1034 1042,1042" stroke-width="2.7" fill="none" />
<polyline points="973.5,1039.6 989.5,1039.6" stroke-width="2.7" stroke-linecap="round"/>
<path d="M1018,1056 L1018,1064 L1034,1064 L1034,1056" stroke-width="3.1" fill="#000" />
<ellipse cx="1025.5" cy="1070.4" rx="10.5" ry="5" stroke-width="3.7" fill="#fff"/>
<ellipse cx="1025.5" cy="1069" rx="5" ry="2" stroke-width="2.3" fill="#000"/>
<polyline points="973.5,1071.3 1014,1071.3" stroke-width="2.7" stroke-linecap="round"/>
<polyline points="906.5,1058.1 920.5,1058.1" stroke-width="3.7" stroke-linecap="round"/>
<polyline points="933.8,1041.3 920.5,1041.3 920.5,1074 933.8,1074" stroke-width="3.7" stroke-linecap="square"/>
<path d="M1029,1082.39 L1029,1091.61 Q1037.5,1097.39 1046,1091.61 L1046,1082.39" stroke-width="3.7" fill="#fff" />
<ellipse cx="1037.5" cy="1082.39" rx="8.5" ry="2.89" stroke-width="3.7" fill="#fff"/>
<ellipse cx="1037.5" cy="1082.5" rx="8.5" ry="3" fill="#000"/>
<path d="M1026.5,1102.655 L1026.5,1113.345 Q1037.25,1120.655 1048,1113.345 L1048,1102.655" stroke-width="3.3" fill="#fff" />
<ellipse cx="1037.25" cy="1102.655" rx="10.75" ry="3.6550000000000002" stroke-width="3.3" fill="#fff"/>
<polyline points="973.5,1094.3 1028,1087.2" stroke-width="2.5" stroke-dasharray="12 3 2 3" stroke-linecap="round"/>
<polyline points="975,1117.3 1005,1107.3" stroke-width="2.5" stroke-dasharray="10 4" stroke-linecap="round"/>
<path d="M993,1135.6 L1046.5,1121.5 L1053,1130 L1060,1131 L1063,1118 L1069.5,1112.3 L1083,1110.7 L1087,1118 L1098,1119 L1101,1125 L1101,1135 L1083,1140 L1083,1146 L1094,1148 L1094,1153 L1041.5,1167.2 L1023,1164 L994,1146.5 Z" stroke-width="2.9" fill="#fff" />
<path d="M1005,1137 L1012,1136 L1046,1152 L1044,1156 L1038,1155 L1004,1140 Z" stroke-width="2.7" fill="none" />
<polyline points="1008,1139 1042,1154" stroke-width="1.9" stroke-linecap="round"/>
<path d="M1028,1135 L1036,1130 L1046,1134 L1038,1139 Z M1053,1149 L1061,1144 L1071,1148 L1063,1153 Z" stroke-width="2.5" fill="none" />
<path d="M1030,1128 L1044,1126 M1060,1140 L1070,1140" stroke-width="2.1" fill="none" stroke-dasharray="3 2" />
<polyline points="1076,1116 1074,1140" stroke-width="2.3" stroke-dasharray="4 3" stroke-linecap="round"/>
<path d="M1094,1126 Q1098,1128 1096,1132" stroke-width="2.3" fill="none" />
<polyline points="1025,1160 1065,1156" stroke-width="2.1" stroke-dasharray="4 3" stroke-linecap="round"/>
<polyline points="978,1143.4 992,1143.4" stroke-width="2.5" stroke-linecap="round"/>
<path d="M1117,1102.5 L1127,1101.5" stroke-width="3.3" fill="none" />
<path d="M1117,1126.5 L1127,1125" stroke-width="3.3" fill="none" />
<ellipse cx="1126" cy="1113.5" rx="9" ry="12" stroke-width="3.5" fill="#fff"/>
<rect x="1118" y="1103" width="9" height="22" fill="#fff" stroke="none"/>
<path d="M1118,1102 L1127,1101.5 M1118,1126.5 L1127,1125.5" stroke-width="3.3" fill="none" />
<ellipse cx="1118" cy="1114.5" rx="6.5" ry="12" stroke-width="3.5" fill="#fff"/>
<ellipse cx="1118" cy="1115" rx="3.4" ry="6.5" stroke-width="2.7" fill="none"/>
<path d="M1146,1094.0 L1156,1093.0" stroke-width="3.3" fill="none" />
<path d="M1146,1118.0 L1156,1116.5" stroke-width="3.3" fill="none" />
<ellipse cx="1155" cy="1105.0" rx="9" ry="12" stroke-width="3.5" fill="#fff"/>
<rect x="1147" y="1094.5" width="9" height="22" fill="#fff" stroke="none"/>
<path d="M1147,1093.5 L1156,1093.0 M1147,1118.0 L1156,1117.0" stroke-width="3.3" fill="none" />
<ellipse cx="1147" cy="1106.0" rx="6.5" ry="12" stroke-width="3.5" fill="#fff"/>
<ellipse cx="1147" cy="1106.5" rx="3.4" ry="6.5" stroke-width="2.7" fill="none"/>
<polyline points="1118.7,1098 1118.7,1078.2 1120.4,1075.7 1150.3,1069.9 1150.3,1074" stroke-width="2.5" stroke-dasharray="8 3" stroke-linecap="round"/>
<polyline points="1149.5,1083 1149.5,1091.5" stroke-width="2.5" stroke-linecap="round"/>
<polyline points="1133.2,1061.6 1133.2,1072.4" stroke-width="2.5" stroke-linecap="round"/>
<path d="M1172,1088 Q1172,1080 1180,1081 L1190,1086 Q1195,1090 1194,1100 L1193,1108 Q1190,1114 1182,1111 L1174,1106 Q1170,1100 1172,1088 Z" stroke-width="2.7" fill="#000" />
<path d="M1178,1092 L1180,1100 M1184,1096 L1188,1104 M1176,1086 L1182,1086" stroke="#fff" stroke-width="1.4"/>
<polyline points="1185.2,1053.5 1185.2,1086" stroke-width="2.5" stroke-linecap="round"/>
<path d="M1202,1082 Q1203,1076 1209,1077 L1217,1082 Q1220,1086 1219,1094 L1221,1101 L1214,1103 L1204,1096 Q1201,1090 1202,1082 Z" stroke-width="2.7" fill="#000" />
<ellipse cx="1211" cy="1089" rx="2.4" ry="4" fill="#fff" stroke="none"/>
<polyline points="1211.5,1042 1211.5,1076" stroke-width="2.5" stroke-linecap="round"/>
<polyline points="1220.5,1086 1226.5,1084.7" stroke-width="2.3" stroke-linecap="round"/>
<polyline points="1117,1139.5 1140,1152.5" stroke-width="6.4" stroke-linecap="round"/>
<line x1="1120" y1="1141" x2="1136" y2="1150" stroke="#fff" stroke-width="1.4"/>
<path d="M1232.7,1074.7 L1372.7,1038.4 L1374,1053 L1232.7,1090.5 Z" stroke-width="3.3" fill="#fff" />
<ellipse cx="1232.7" cy="1082.5" rx="5.6" ry="7.8" stroke-width="3.5" fill="#fff"/>
<ellipse cx="1233" cy="1083" rx="2.6" ry="4.2" stroke-width="2.3" fill="none"/>
<circle cx="1243" cy="1082" r="1.5" fill="#000"/>
<path d="M1373,1036 L1380,1030 L1392,1027 L1400,1032 L1400,1050 L1392,1056 L1378,1057 L1373,1054 Z" stroke-width="3.1" fill="#000" />
<path d="M1386,1034 L1394,1036 L1396,1046 L1388,1050 M1380,1040 L1382,1050" stroke="#fff" stroke-width="2"/>
<polyline points="1364,1030 1376,1036" stroke-width="2.7" stroke-linecap="round"/>
<polyline points="1299.5,1073 1299.5,1092" stroke-width="2.5" stroke-linecap="round"/>
<ellipse cx="1302.5" cy="997" rx="5" ry="6.4" stroke-width="5.0" fill="#fff" transform="rotate(-20 1302.5 997)"/>
<path d="M1302,993 Q1299,997 1303,1001" stroke-width="2.5" fill="none" />
<polyline points="1308,999.5 1320,1005" stroke-width="7.4" stroke-linecap="butt"/>
<polyline points="1310.6,965.5 1310.6,987.5" stroke-width="2.5" stroke-linecap="round"/>
<path d="M1329,1010 L1352,1004 L1359,1006 L1357,1012 L1359,1030 L1340,1027 L1334,1032 L1329,1028 Z" stroke-width="3.1" fill="#000" />
<path d="M1338,1012 L1350,1009 M1336,1022 L1344,1018 L1350,1022 M1352,1014 L1350,1020" stroke="#fff" stroke-width="1.8"/>
<polyline points="1351,988 1351,1002" stroke-width="2.5" stroke-linecap="round"/>
<path d="M977.5,1199 L1052,1175.5 L1070,1177.2 L1079.5,1179.7 L1108,1177.2 L1199,1153 L1206,1154.7 L1227.5,1168 L1222.5,1174.7 L1196,1178 L1154.5,1188.8 L1136,1196.3 L1128,1204.6 L1123.7,1218.7 L1046.5,1238.7 L1005,1231.2 L978,1218 Z" stroke-width="2.8" fill="#fff" />
<circle cx="978" cy="1199" r="2.6" fill="#000"/>
<circle cx="1080" cy="1179" r="2.6" fill="#000"/>
<circle cx="1130" cy="1172" r="2.6" fill="#000"/>
<circle cx="1172" cy="1160" r="2.6" fill="#000"/>
<circle cx="1203" cy="1154" r="2.6" fill="#000"/>
<circle cx="1225" cy="1169" r="2.6" fill="#000"/>
<circle cx="1196" cy="1178" r="2.6" fill="#000"/>
<circle cx="1155" cy="1189" r="2.6" fill="#000"/>
<circle cx="1046" cy="1238" r="2.6" fill="#000"/>
<circle cx="1123" cy="1214" r="2.6" fill="#000"/>
<polyline points="1025,1191 1067,1180.5" stroke-width="7.4" stroke-linecap="round"/>
<line x1="1027" y1="1190.4" x2="1065" y2="1181" stroke="#fff" stroke-width="1.4"/>
<path d="M1072,1218 L1116,1207.5 L1118,1211 L1078,1221 Z" stroke-width="3.1" fill="none" />
<path d="M1070,1218 L1076,1222" stroke-width="4.4" fill="none" />
<path d="M1126,1196 L1124,1212" stroke-width="3.1" fill="none" />
<path d="M1126,1182 Q1134,1186 1140,1183 M1196,1164 Q1202,1167 1208,1164" stroke-width="2.3" fill="none" />
<polyline points="1129,1178 1136,1178" stroke-width="1.9" stroke-dasharray="2 2" stroke-linecap="round"/>
<polyline points="1198,1160 1206,1160" stroke-width="1.9" stroke-dasharray="2 2" stroke-linecap="round"/>
<path d="M1018,1204 L1030,1203 M1024,1206 L1027,1206" stroke-width="2.1" fill="none" />
<path d="M1052,1212 Q1055,1216 1053,1220" stroke-width="2.3" fill="none" />
<circle cx="1000" cy="1218" r="1.2" fill="#000"/>
<circle cx="1166" cy="1234" r="1.2" fill="#000"/>
<circle cx="1152" cy="1240" r="1.2" fill="#000"/>
<circle cx="1200" cy="1198" r="1.2" fill="#000"/>
<polyline points="967.5,1210.4 975,1210.4" stroke-width="2.5" stroke-linecap="round"/>
<path d="M930,1200 L968,1225 M930,1225 L968,1200" stroke-width="1.8"/>
<polyline points="983,1223 983,1238" stroke-width="2.5" stroke-linecap="round"/>
<polyline points="1080.3,1232 1080.3,1257" stroke-width="2.5" stroke-linecap="round"/>
<polyline points="1122,1219 1122,1246" stroke-width="2.7" stroke-dasharray="10 3" stroke-linecap="round"/>
<polyline points="1132,1197 1132,1242" stroke-width="2.7" stroke-dasharray="12 4" stroke-linecap="round"/>
<polyline points="1154,1190 1154,1200" stroke-width="2.3" stroke-linecap="round"/>
<polyline points="1173,1196 1173,1204" stroke-width="2.3" stroke-dasharray="3 3" stroke-linecap="round"/>
<polyline points="1224.2,1181 1224.2,1226" stroke-width="2.5" stroke-dasharray="9 3 2 3" stroke-linecap="round"/>
<polyline points="1194.6,1222 1224,1214" stroke-width="2.3" stroke-dasharray="5 2 1.5 2" stroke-linecap="round"/>
<polyline points="1197,1205 1197,1221" stroke-width="2.3" stroke-dasharray="3 3" stroke-linecap="round"/>
<polyline points="1046.2,1241 1046.2,1298" stroke-width="2.5" stroke-dasharray="10 4" stroke-linecap="round"/>
<polyline points="1093.7,1271 1093.7,1316" stroke-width="2.5" stroke-dasharray="12 4" stroke-linecap="round"/>
<polyline points="1019,1257 1042.5,1267.3" stroke-width="2.5" stroke-dasharray="8 3" stroke-linecap="round"/>
<polyline points="1046,1267 1063,1262.7" stroke-width="2.3" stroke-dasharray="3 5" stroke-linecap="round"/>
<path d="M1221,1232 Q1224,1229 1227,1232 L1228,1242 Q1231,1246 1228,1250 Q1224,1252 1220,1250 Q1217,1246 1220,1242 Z" stroke-width="3.1" fill="#fff" />
<polyline points="1219,1243 1229,1243" stroke-width="2.7" stroke-linecap="round"/>
<polyline points="1232.6,1237.8 1252,1237.8" stroke-width="2.5" stroke-linecap="round"/>
<polyline points="904.5,1270.7 920.3,1270.7" stroke-width="3.7" stroke-linecap="round"/>
<polyline points="930.5,1210.6 920.3,1210.6 920.3,1325.1 934,1325.1" stroke-width="3.7" stroke-linecap="square"/>
<line x1="1026" y1="1304.5" x2="1071" y2="1296.8" stroke="#000" stroke-width="17" stroke-linecap="round"/>
<line x1="1026" y1="1304.5" x2="1071" y2="1296.8" stroke="#fff" stroke-width="12.6" stroke-linecap="round"/>
<line x1="1071" y1="1330.5" x2="1116" y2="1324" stroke="#000" stroke-width="17" stroke-linecap="round"/>
<line x1="1071" y1="1330.5" x2="1116" y2="1324" stroke="#fff" stroke-width="12.6" stroke-linecap="round"/>
<polyline points="970.5,1324 999.6,1324" stroke-width="2.5" stroke-linecap="round"/>
<polyline points="1016.6,1310.4 999.6,1311 999.6,1336.4 1063,1337" stroke-width="2.5" stroke-linecap="round"/>
<path d="M1552.5,690.3 L1494,706.7 L1405,750 L1398,755.8 L1384,760.5 L1374.5,774.6 L1360.4,826 L1343,910.4 Q1344,920 1356,927 L1372,944.4 L1400,944.4 L1411,934 L1412,922 L1400,910.4 Q1388,904 1388.5,894 L1412,835.5 L1423.7,800.3 L1456.5,788.6 L1470.5,785 Q1478,788 1480,793.3 L1484.6,805 L1489.3,805 L1492,793 L1498,793 L1503.3,800.3 L1531.4,795.6 L1564.2,786.3 Q1580,778 1583,772.2 L1587.6,765.2 L1588.8,713.7 L1573.6,702 Z" stroke-width="3.3" fill="#fff" />
<path d="M1456.5,788.6 L1457.6,793.3 L1465,806 L1476.4,807.4 L1484.6,805" stroke-width="3.1" fill="none" />
<circle cx="1495" cy="788.2" r="5" stroke-width="2.2" fill="#fff"/>
<path d="M1493,788 L1497,788" stroke-width="2.1" fill="none" />
<path d="M1398,755.8 L1400,752 L1406,754" stroke-width="2.7" fill="none" />
<path d="M1416,806 L1400,850 M1422,803 L1410,830" stroke-width="2.3" fill="none" />
<path d="M1356,927 Q1362,922 1364,930 L1372,944" stroke-width="2.3" fill="none" />
<path d="M1401,923 L1410,923 L1410,934 L1401,934 Z" stroke-width="2.7" fill="none" />
<path d="M1505.6,751 L1578,730 Q1584,730 1584,735 L1584,765" stroke-width="2.7" fill="none" />
<polyline points="1508,772 1505.6,751" stroke-width="2.7" stroke-linecap="round"/>
<path d="M1508,753 L1576,733" stroke-width="2.1" fill="none" stroke-dasharray="5 3" />
<path d="M1510,775 L1570,758" stroke-width="2.1" fill="none" stroke-dasharray="6 3" />
<path d="M1510.3,760.5 L1574.7,743 M1511.5,766.4 L1573.5,750" stroke-width="3.6" fill="none" />
<path d="M1508,758 L1508,768 L1575,750 L1575,740 Z" stroke-width="2.1" fill="none" />
<path d="M1578,735 L1581,760 L1586,768" stroke-width="2.7" fill="none" />
<ellipse cx="1583" cy="768" rx="3.2" ry="4.2" stroke-width="2.9" fill="#888"/>
<path d="M1505.6,751 L1496,783" stroke-width="2.3" fill="none" />
<path d="M1519,733 Q1517,738 1522,739 L1527,737 M1521,729 Q1516,731 1517,737" stroke-width="2.9" fill="none" />
<polyline points="1528,733 1556,725" stroke-width="6.9" stroke-linecap="butt"/>
<path d="M1534,728 L1535,735 M1541,726 L1542,733 M1548,724 L1549,731" stroke="#fff" stroke-width="1.6"/>
<circle cx="1565" cy="723" r="4.4" stroke-width="2.2" fill="#fff"/>
<path d="M1566,722 L1569,726" stroke-width="2.7" fill="none" />
<circle cx="1446" cy="767.5" r="4.6" stroke-width="2.2" fill="#999"/>
<circle cx="1392" cy="768" r="1" fill="#000"/>
<circle cx="1400" cy="770" r="1" fill="#000"/>
<circle cx="1388" cy="776" r="1" fill="#000"/>
<circle cx="1446" cy="751" r="1" fill="#000"/>
<circle cx="1468" cy="780" r="1" fill="#000"/>
<circle cx="1378" cy="904" r="1" fill="#000"/>
<circle cx="1396" cy="916" r="1" fill="#000"/>
<polyline points="1590,713.7 1615.5,713.7" stroke-width="2.7" stroke-linecap="round"/>
<polygon points="1481.2,691.8 1468.1,683.9 1457.6,682.1 1463.6,690.8 1476.3,699.3" fill="#000" stroke="#000" stroke-width="1.4"/>
<circle cx="1472.6" cy="691.6" r="0.7" fill="#999" stroke="none"/>
<circle cx="1468.4" cy="689.0" r="0.7" fill="#999" stroke="none"/>
<circle cx="1483.4" cy="698.5" r="5.8" stroke-width="3.4" fill="#bbb"/>
<path d="M1481.2,697.7 L1485.6,699.3" stroke-width="1.6"/>
<polygon points="1554.5,668.4 1541.6,661.8 1531.4,661.0 1537.7,669.1 1550.2,676.3" fill="#000" stroke="#000" stroke-width="1.4"/>
<circle cx="1546.4" cy="669.1" r="0.7" fill="#999" stroke="none"/>
<circle cx="1542.2" cy="666.9" r="0.7" fill="#999" stroke="none"/>
<circle cx="1557.2" cy="675.0" r="5.8" stroke-width="3.4" fill="#bbb"/>
<path d="M1555.0,674.2 L1559.4,675.8" stroke-width="1.6"/>
<polygon points="1598.6,654.6 1584.3,648.5 1573.6,648.1 1580.9,656.0 1594.8,662.8" fill="#000" stroke="#000" stroke-width="1.4"/>
<circle cx="1589.9" cy="655.6" r="0.7" fill="#999" stroke="none"/>
<circle cx="1585.4" cy="653.5" r="0.7" fill="#999" stroke="none"/>
<circle cx="1601.7" cy="661.0" r="5.8" stroke-width="3.4" fill="#bbb"/>
<path d="M1599.5,660.2 L1603.9,661.8" stroke-width="1.6"/>
<polygon points="1622.3,781.7 1609.5,775.3 1599.3,774.6 1605.6,782.6 1618.1,789.6" fill="#000" stroke="#000" stroke-width="1.4"/>
<circle cx="1614.3" cy="782.5" r="0.7" fill="#999" stroke="none"/>
<circle cx="1610.1" cy="780.3" r="0.7" fill="#999" stroke="none"/>
<circle cx="1625.1" cy="788.2" r="5.8" stroke-width="3.4" fill="#bbb"/>
<path d="M1622.9,787.4 L1627.3,789.0" stroke-width="1.6"/>
<polygon points="1547.8,814.7 1535.5,807.5 1525.5,806.2 1531.2,814.6 1543.1,822.3" fill="#000" stroke="#000" stroke-width="1.4"/>
<circle cx="1539.8" cy="815.0" r="0.7" fill="#999" stroke="none"/>
<circle cx="1535.8" cy="812.6" r="0.7" fill="#999" stroke="none"/>
<circle cx="1550.1" cy="821.4" r="5.8" stroke-width="3.4" fill="#bbb"/>
<path d="M1547.9,820.6 L1552.3,822.2" stroke-width="1.6"/>
<polygon points="1439.7,947.1 1426.9,940.5 1416.7,939.7 1422.9,947.8 1435.4,955.0" fill="#000" stroke="#000" stroke-width="1.4"/>
<circle cx="1431.6" cy="947.8" r="0.7" fill="#999" stroke="none"/>
<circle cx="1427.5" cy="945.6" r="0.7" fill="#999" stroke="none"/>
<circle cx="1442.4" cy="953.7" r="5.8" stroke-width="3.4" fill="#bbb"/>
<path d="M1440.2,952.9 L1444.6,954.5" stroke-width="1.6"/>
<polygon points="1489.0,928.4 1475.3,921.1 1464.7,919.8 1471.3,928.3 1484.6,936.2" fill="#000" stroke="#000" stroke-width="1.4"/>
<circle cx="1480.3" cy="928.6" r="0.7" fill="#999" stroke="none"/>
<circle cx="1476.0" cy="926.2" r="0.7" fill="#999" stroke="none"/>
<circle cx="1491.6" cy="935.0" r="5.8" stroke-width="3.4" fill="#bbb"/>
<path d="M1489.4,934.2 L1493.8,935.8" stroke-width="1.6"/>
<polyline points="1612.6,613.2 1483,650.4" stroke-width="2.5" stroke-dasharray="22 3 3 3" stroke-linecap="round"/>
<polyline points="1483,650.4 1484.5,691" stroke-width="2.5" stroke-linecap="round"/>
<polyline points="1558.7,630 1558.7,669" stroke-width="2.5" stroke-linecap="round"/>
<polyline points="1604.3,616.5 1604.3,654.5" stroke-width="2.5" stroke-linecap="round"/>
<polyline points="1451.8,678.5 1454,770" stroke-width="2.3" stroke-linecap="round"/>
<polyline points="1524.4,657.5 1528,730" stroke-width="2.3" stroke-linecap="round"/>
<polyline points="1569,644.6 1570,723" stroke-width="2.3" stroke-linecap="round"/>
<polyline points="1611,791 1611,819" stroke-width="2.5" stroke-linecap="round"/>
<polyline points="1535,821.4 1535,845" stroke-width="2.5" stroke-linecap="round"/>
<polyline points="1498,792 1525,806" stroke-width="2.3" stroke-dasharray="6 3" stroke-linecap="round"/>
<polyline points="1588,768 1599,774" stroke-width="2.3" stroke-linecap="round"/>
<polyline points="1715.7,786 1441.4,877.5 1441.4,947" stroke-width="2.5" stroke-linecap="round"/>
<polyline points="1494.6,862.6 1494.6,927" stroke-width="2.5" stroke-linecap="round"/>
<polyline points="1702.4,791 1702.4,842.6" stroke-width="2.5" stroke-linecap="round"/>
<polyline points="1458,917.4 1458,964" stroke-width="2.5" stroke-linecap="round"/>
<polyline points="1458,964 1500,955" stroke-width="2.3" stroke-dasharray="6 3 2 3" stroke-linecap="round"/>
<path d="M1463,969.6 L1509.5,959.2 Q1515,957 1516.5,952 L1537.3,855 Q1542,848 1549,846.8 L1563,843.3 L1576.7,848 L1593,852.6 Q1615,846 1632.4,829.4 L1634.7,822.4 Q1640,817 1648.6,816.7 Q1658,818 1662.5,822.4 Q1671,826 1671.7,834 L1673,885 L1739,868.8 L1742,872 L1746,871 L1766.8,859.5 L1778.4,839.8 Q1784,835 1792.3,834 Q1804,837 1810.8,843.3 L1819,855 L1820,912.8 L1810.8,919.8 L1800.4,922 L1780.7,914 L1759.8,917.5 L1671.7,950 L1667,963.8 Q1664,976 1655.5,980 L1620.8,985.8 L1569.8,994 L1542,995 L1484,1001 L1458.5,989.3 L1458.5,982.4 Z" stroke-width="3.3" fill="#fff" />
<path d="M1463,969.6 Q1482,974 1486,988 L1484,1001" stroke-width="4.4" fill="none" />
<path d="M1466,973 Q1478,980 1480,996" stroke-width="2.3" fill="none" />
<path d="M1632.4,829.4 Q1640,832 1644,828 L1646,836 L1640,840" stroke-width="2.9" fill="none" />
<path d="M1549,846.8 Q1552,856 1565,857.2 L1593,852.6" stroke-width="2.7" fill="none" />
<path d="M1541,852 Q1548,862 1562,866" stroke-width="2.3" fill="none" />
<path d="M1565,857.2 Q1620,852 1662.5,835.2" stroke-width="5.9" fill="none" />
<path d="M1566,862 Q1620,857 1662,840" stroke-width="2.3" fill="none" />
<path d="M1565,857.2 L1559.4,912.8" stroke-width="3.3" fill="none" />
<path d="M1572,862 L1566,911" stroke-width="2.9" fill="none" />
<path d="M1581.4,868.8 L1655.5,848 L1657.8,889.7 L1579,907 Z" stroke-width="3.3" fill="none" />
<path d="M1584,872 L1653,852 M1582,903 L1655,886" stroke-width="2.1" fill="none" />
<path d="M1660,838 L1665,912" stroke-width="3.6" fill="none" />
<path d="M1667,832 L1671,918" stroke-width="3.3" fill="none" />
<path d="M1672,834 L1676,910" stroke-width="2.5" fill="none" />
<path d="M1558.2,915.1 Q1610,910 1657.8,894.3" stroke-width="3.1" fill="none" />
<path d="M1640,892 L1650,897 L1664,912 L1676,916" stroke-width="2.7" fill="none" />
<path d="M1559,913 L1553.6,938.3" stroke-width="2.7" fill="none" />
<path d="M1668,915 L1667,963" stroke-width="3.7" fill="none" />
<path d="M1577.9,933.7 Q1576,928 1582,926.5 L1652,913.5 Q1658,913 1657,918 L1657,921 L1583,937 Q1578,938 1577.9,933.7 Z" stroke-width="2.7" fill="none" />
<polyline points="1580,932.5 1620.8,926.5" stroke-width="4.9" stroke-linecap="butt"/>
<path d="M1555,930 Q1562,928 1566,936 L1558,940" stroke-width="2.7" fill="none" />
<path d="M1556,934 L1564,938" stroke-width="2.1" fill="none" />
<polyline points="1573,940 1567,958 1563,990" stroke-width="2.5" stroke-dasharray="10 4" stroke-linecap="round"/>
<polyline points="1552,940 1545,975 1542,992" stroke-width="2.5" stroke-dasharray="12 4" stroke-linecap="round"/>
<polyline points="1576,989 1622,985" stroke-width="2.5" stroke-dasharray="14 4" stroke-linecap="round"/>
<polyline points="1560,924 1650,906" stroke-width="2.1" stroke-dasharray="8 4 2 4" stroke-linecap="round"/>
<polyline points="1621,985 1655,978.5" stroke-width="5.9" stroke-linecap="round"/>
<path d="M1640,980 L1650,978" stroke="#fff" stroke-width="1.4"/>
<path d="M1555,993 L1558,988 L1568,987 L1566,993" stroke-width="2.5" fill="none" />
<path d="M1563,958 Q1565,980 1567,984" stroke-width="2.5" fill="none" />
<polyline points="1458.5,916.3 1458.5,963.8" stroke-width="2.5" stroke-linecap="round"/>
<polyline points="1458.5,963.8 1514,952 1556,939" stroke-width="2.5" stroke-dasharray="9 3 2 3" stroke-linecap="round"/>
<polyline points="1801.5,857 1801.5,910" stroke-width="2.3" stroke-dasharray="9 3" stroke-linecap="round"/>
<polyline points="1761,911.7 1790,905.9" stroke-width="5.4" stroke-linecap="butt"/>
<path d="M1812,851 Q1804,852 1806,858 L1810,860" stroke-width="2.7" fill="none" />
<circle cx="1812" cy="916" r="3.2" fill="#000"/>
<path d="M1794,890 L1796,906 L1800,896" stroke-width="2.1" fill="none" />
<path d="M1739,868.8 L1742,866 L1746,868" stroke-width="2.3" fill="none" />
<polyline points="1668,915 1704,926.7 1741,947.6" stroke-width="2.3" stroke-dasharray="9 4 2 4" stroke-linecap="round"/>
<polyline points="1681,916.3 1760,912 1800,907" stroke-width="2.3" stroke-dasharray="3 8" stroke-linecap="round"/>
<path d="M1672,930 Q1676,938 1686,938" stroke-width="2.1" fill="none" stroke-dasharray="4 3" />
<circle cx="1553" cy="876" r="1.1" fill="#000"/>
<circle cx="1556" cy="886" r="1.1" fill="#000"/>
<circle cx="1554" cy="898" r="1.1" fill="#000"/>
<circle cx="1551" cy="908" r="1.1" fill="#000"/>
<circle cx="1560" cy="872" r="1.1" fill="#000"/>
<circle cx="1640" cy="856" r="1.1" fill="#000"/>
<circle cx="1648" cy="852" r="1.1" fill="#000"/>
<circle cx="1546" cy="944" r="1.1" fill="#000"/>
<circle cx="1530" cy="948" r="1.1" fill="#000"/>
<polygon points="1707.1,848.4 1692.9,841.7 1682.2,841.0 1689.2,849.2 1703.1,856.5" fill="#000" stroke="#000" stroke-width="1.4"/>
<circle cx="1698.3" cy="849.1" r="0.7" fill="#999" stroke="none"/>
<circle cx="1693.9" cy="846.8" r="0.7" fill="#999" stroke="none"/>
<circle cx="1710.0" cy="854.9" r="5.8" stroke-width="3.4" fill="#bbb"/>
<path d="M1707.8,854.1 L1712.2,855.7" stroke-width="1.6"/>
<polygon points="1852.0,876.2 1837.1,868.8 1825.9,867.6 1833.2,876.1 1847.8,884.1" fill="#000" stroke="#000" stroke-width="1.4"/>
<circle cx="1842.7" cy="876.4" r="0.7" fill="#999" stroke="none"/>
<circle cx="1838.0" cy="873.9" r="0.7" fill="#999" stroke="none"/>
<circle cx="1854.8" cy="882.7" r="5.8" stroke-width="3.4" fill="#bbb"/>
<path d="M1852.6,881.9 L1857.0,883.5" stroke-width="1.6"/>
<polygon points="1847.3,930.7 1831.5,923.2 1820.0,922.1 1827.8,930.6 1843.3,938.8" fill="#000" stroke="#000" stroke-width="1.4"/>
<circle cx="1837.5" cy="930.9" r="0.7" fill="#999" stroke="none"/>
<circle cx="1832.7" cy="928.4" r="0.7" fill="#999" stroke="none"/>
<circle cx="1850.2" cy="937.2" r="5.8" stroke-width="3.4" fill="#bbb"/>
<path d="M1848.0,936.4 L1852.4,938.0" stroke-width="1.6"/>
<polygon points="1699.0,982.8 1684.8,976.1 1674.1,975.4 1681.1,983.6 1695.0,990.9" fill="#000" stroke="#000" stroke-width="1.4"/>
<circle cx="1690.2" cy="983.5" r="0.7" fill="#999" stroke="none"/>
<circle cx="1685.8" cy="981.2" r="0.7" fill="#999" stroke="none"/>
<circle cx="1701.9" cy="989.3" r="5.8" stroke-width="3.4" fill="#bbb"/>
<path d="M1699.7,988.5 L1704.1,990.1" stroke-width="1.6"/>
<polygon points="1615.6,1017.6 1602.2,1011.0 1591.8,1010.2 1598.4,1018.3 1611.4,1025.5" fill="#000" stroke="#000" stroke-width="1.4"/>
<circle cx="1607.2" cy="1018.3" r="0.7" fill="#999" stroke="none"/>
<circle cx="1603.0" cy="1016.0" r="0.7" fill="#999" stroke="none"/>
<circle cx="1618.4" cy="1024.1" r="5.8" stroke-width="3.4" fill="#bbb"/>
<path d="M1616.2,1023.3 L1620.6,1024.9" stroke-width="1.6"/>
<polyline points="1676,838 1680,842" stroke-width="2.1" stroke-linecap="round"/>
<polyline points="1820,862 1826,868" stroke-width="2.3" stroke-linecap="round"/>
<polyline points="1668,970 1674,975" stroke-width="2.1" stroke-linecap="round"/>
<polyline points="1864,884 1879,885 1878,961.5" stroke-width="2.5" stroke-linecap="round"/>
<polyline points="1859.5,940.6 1878,941.8" stroke-width="2.5" stroke-linecap="round"/>
<polyline points="1688,991.6 1688,1026.4 1588.3,1056.5" stroke-width="2.5" stroke-linecap="round"/>
<polyline points="1605.7,1026.4 1605.7,1050.7" stroke-width="2.5" stroke-linecap="round"/>
<polyline points="1798,801.6 1798,834" stroke-width="2.5" stroke-linecap="round"/>
<path d="M1787,778 L1807,798 M1807,778 L1787,798 M1797,775 L1797,801" stroke-width="2.9" fill="none" />
<polyline points="1666,714 1706,714 1797,762" stroke-width="3.7" stroke-linecap="round"/>
<polyline points="1777,738 1777,752" stroke-width="3.7" stroke-linecap="round"/>
<polyline points="1797,762 1797,774" stroke-width="3.7" stroke-dasharray="6 3" stroke-linecap="round"/>
<path d="M1741,950 L1809.6,931.4 Q1814,932 1814.3,936 L1814.3,970.8 Q1814,975 1810.8,975.4 L1734,999.5 Q1729,999 1729.7,995 L1739,954.5 Q1739,951 1741,950 Z" stroke-width="3.1" fill="#fff" />
<polyline points="1740,961.5 1813,943" stroke-width="2.5" stroke-linecap="round"/>
<polyline points="1797,985.8 1797,998.6" stroke-width="2.5" stroke-linecap="round"/>
<polyline points="1731,1023 1799,1062" stroke-width="6.9" stroke-linecap="round"/>
<line x1="1738" y1="1028" x2="1790" y2="1058" stroke="#fff" stroke-width="1.2" stroke-dasharray="6 4"/>
<polyline points="1800,1064 1775,1071.5" stroke-width="7.9" stroke-linecap="butt"/>
<polyline points="1785.3,1074 1785.3,1080" stroke-width="2.5" stroke-linecap="round"/>
<path d="M1611,601 L1650,622 M1611,622 L1650,601" stroke-width="1.5999999999999999"/>
<path d="M1713,781 L1752,802 M1713,802 L1752,781" stroke-width="1.5999999999999999"/>
<path d="M1857,966 L1896,987 M1857,987 L1896,966" stroke-width="1.5999999999999999"/>
<path d="M1550,1053 L1589,1074 M1550,1074 L1589,1053" stroke-width="1.5999999999999999"/>
<path d="M1766,1093 L1803,1114 M1766,1114 L1803,1093" stroke-width="1.5999999999999999"/>
<ellipse cx="549.7" cy="970.7" rx="19" ry="7.4" stroke-width="2.7" fill="#000"/>
<ellipse cx="549.7" cy="969.5" rx="10" ry="2.6" fill="#fff" stroke="none"/><path d="M536,973 L536,977 M563,973 L563,977" stroke="#fff" stroke-width="1.6"/>
<polyline points="491,958.6 525.5,971.6" stroke-width="2.7" stroke-linecap="round"/>
<path d="M531,998 L531,1008 Q549.7,1020 568.5,1008 L568.5,998" stroke-width="3.5" fill="#fff" />
<ellipse cx="549.7" cy="998" rx="18.6" ry="6" stroke-width="3.5" fill="#fff"/>
<path d="M538,1000 Q549.7,1006 561,1000" stroke-width="3.1" fill="none" />
<polyline points="492,1006.9 529,1006" stroke-width="2.7" stroke-linecap="round"/>
<polyline points="549.7,983 549.7,989.5" stroke-width="2.7" stroke-linecap="round"/>
<polyline points="549.7,1020 549.7,1035" stroke-width="2.7" stroke-linecap="round"/>
<path d="M455,974 L490,995 M455,995 L490,974" stroke-width="1.7"/>
<path d="M478,1048 L482,1046 L499.5,1049.7 L541.3,1036.7 L583,1037.6 L593,1036.5 L603.6,1043.2 L758,998.6 L762.6,1000.4 L763.5,1007 L771,1011.6 L769,1016.2 L756,1021.8 L722.6,1041.3 L721.7,1057 L681.7,1068.3 L627.8,1083.2 L624,1088.8 L616.6,1091.5 L612,1108.3 L531,1131.5 L501.4,1125 L480,1114.8 L470.7,1103.6 L469.8,1081.3 L473.5,1059 Z" stroke-width="3.7" fill="#fff" />
<path d="M603.6,1043.2 L620.4,1053.4 L707.8,1027.4 L711.5,1031" stroke-width="2.9" fill="none" />
<path d="M604,1044 L618,1054 L624,1052" stroke-width="4.4" fill="none" />
<path d="M681.7,1068 L681.7,1051.6 L683.6,1047 L715,1038.6" stroke-width="2.5" fill="none" stroke-dasharray="9 3" />
<path d="M626.9,1061 L626.9,1083" stroke-width="3.7" fill="none" />
<path d="M478,1047 Q484,1042 490,1048 L498,1054" stroke-width="5.4" fill="none" />
<path d="M479,1115 Q468,1120 463,1112 Q460,1104 468,1102 L474,1102" stroke-width="3.7" fill="#fff" />
<path d="M470,1106 Q466,1110 470,1114" stroke-width="2.3" fill="none" />
<ellipse cx="548" cy="1053" rx="13" ry="4.6" stroke-width="3.1" fill="none"/>
<path d="M538,1048 L546,1046 M552,1044 L566,1046 L572,1050" stroke-width="2.7" fill="none" stroke-dasharray="5 2" />
<path d="M506,1060 L522,1058 L528,1064 L510,1068 Z" stroke-width="3.1" fill="#000" />
<path d="M510,1063 L524,1061" stroke="#fff" stroke-width="1.2"/>
<path d="M504,1066 L504,1076 L512,1078 M530,1066 L534,1072 L550,1074" stroke-width="2.9" fill="none" />
<path d="M536,1078 L548,1082 M538,1082 L546,1086" stroke-width="3.1" fill="none" />
<polyline points="500,1090 516,1092" stroke-width="2.5" stroke-dasharray="8 4 2 4" stroke-linecap="round"/>
<polyline points="532,1094 548,1096" stroke-width="2.5" stroke-dasharray="6 3" stroke-linecap="round"/>
<polyline points="550,1090 560,1088" stroke-width="2.3" stroke-dasharray="3 4" stroke-linecap="round"/>
<path d="M476,1078 L480,1078 M472,1092 L474,1080" stroke-width="3.3" fill="none" />
<path d="M530,1130 L530,1120 L536,1119" stroke-width="2.5" fill="none" />
<path d="M580,1106 L586,1110 M578,1112 L584,1116" stroke-width="2.5" fill="none" />
<path d="M634,1062 L646,1058 L648,1074 L636,1078 M640,1064 L642,1074" stroke-width="2.3" fill="none" stroke-dasharray="3 2" />
<circle cx="494" cy="1102" r="1.2" fill="#000"/>
<circle cx="566" cy="1060" r="1.2" fill="#000"/>
<circle cx="614" cy="1064" r="1.2" fill="#000"/>
<circle cx="574" cy="1050" r="1.2" fill="#000"/>
<path d="M660,1036 L690,1027" stroke-width="2.1" fill="none" stroke-dasharray="3 2" />
<path d="M688,1022 L700,1018" stroke-width="2.1" fill="none" />
<ellipse cx="715" cy="1017.5" rx="8" ry="4" stroke-width="2.7" fill="#000"/>
<ellipse cx="745" cy="1008" rx="6" ry="3.4" stroke-width="2.7" fill="#000"/>
<path d="M743,1008 L747,1007" stroke="#fff" stroke-width="1.2"/>
<polyline points="720,1026 740,1020" stroke-width="2.3" stroke-dasharray="8 4 2 4" stroke-linecap="round"/>
<polyline points="752,1014 762,1010" stroke-width="2.1" stroke-dasharray="3 2" stroke-linecap="round"/>
<polyline points="763.5,999.5 800,986.5" stroke-width="2.3" stroke-dasharray="14 4 2 4" stroke-linecap="round"/>
<polyline points="640.8,1085 640.8,1222" stroke-width="2.5" stroke-dasharray="16 3 3 3" stroke-linecap="round"/>
<rect x="480" y="1138" width="9.5" height="27" rx="4.75" ry="3.8000000000000003" stroke-width="2.8" fill="#fff"/>
<rect x="538.5" y="1172.5" width="9.5" height="27.5" rx="4.75" ry="3.8000000000000003" stroke-width="2.8" fill="#fff"/>
<rect x="568.5" y="1134.5" width="11.0" height="33.0" rx="5.5" ry="4.4" stroke-width="3.6" fill="#fff"/>
<path d="M508,1155 L508,1186 Q517.5,1192 527.5,1186 L527.5,1155" stroke-width="3.5" fill="#fff" />
<ellipse cx="517.7" cy="1154" rx="9.8" ry="4.4" stroke-width="3.5" fill="#fff"/>
<polyline points="485.6,1172 485.6,1200" stroke-width="2.5" stroke-dasharray="8 3 2 3" stroke-linecap="round"/>
<circle cx="574.8" cy="1183.6" r="1.3" fill="#000"/><circle cx="517" cy="1196" r="1.2" fill="#000"/>
<polyline points="451,954.8 407.3,954.8 407.3,1279 642,1273 642,1253.5" stroke-width="3.6" stroke-linecap="square"/>
<polyline points="407.3,1009.4 440.5,1009.4" stroke-width="3.6" stroke-linecap="round"/>
<polyline points="484.5,1253.5 484.5,1277" stroke-width="3.7" stroke-linecap="round"/>
<polyline points="518.8,1229 518.8,1276" stroke-width="3.7" stroke-linecap="round"/>
<polyline points="545.2,1253.5 545.2,1276" stroke-width="3.7" stroke-linecap="round"/>
<polyline points="577,1227.6 577,1275" stroke-width="3.7" stroke-linecap="round"/>
<polyline points="533,1278 533,1295.8" stroke-width="3.7" stroke-linecap="round"/>
</svg>
</body></html>
